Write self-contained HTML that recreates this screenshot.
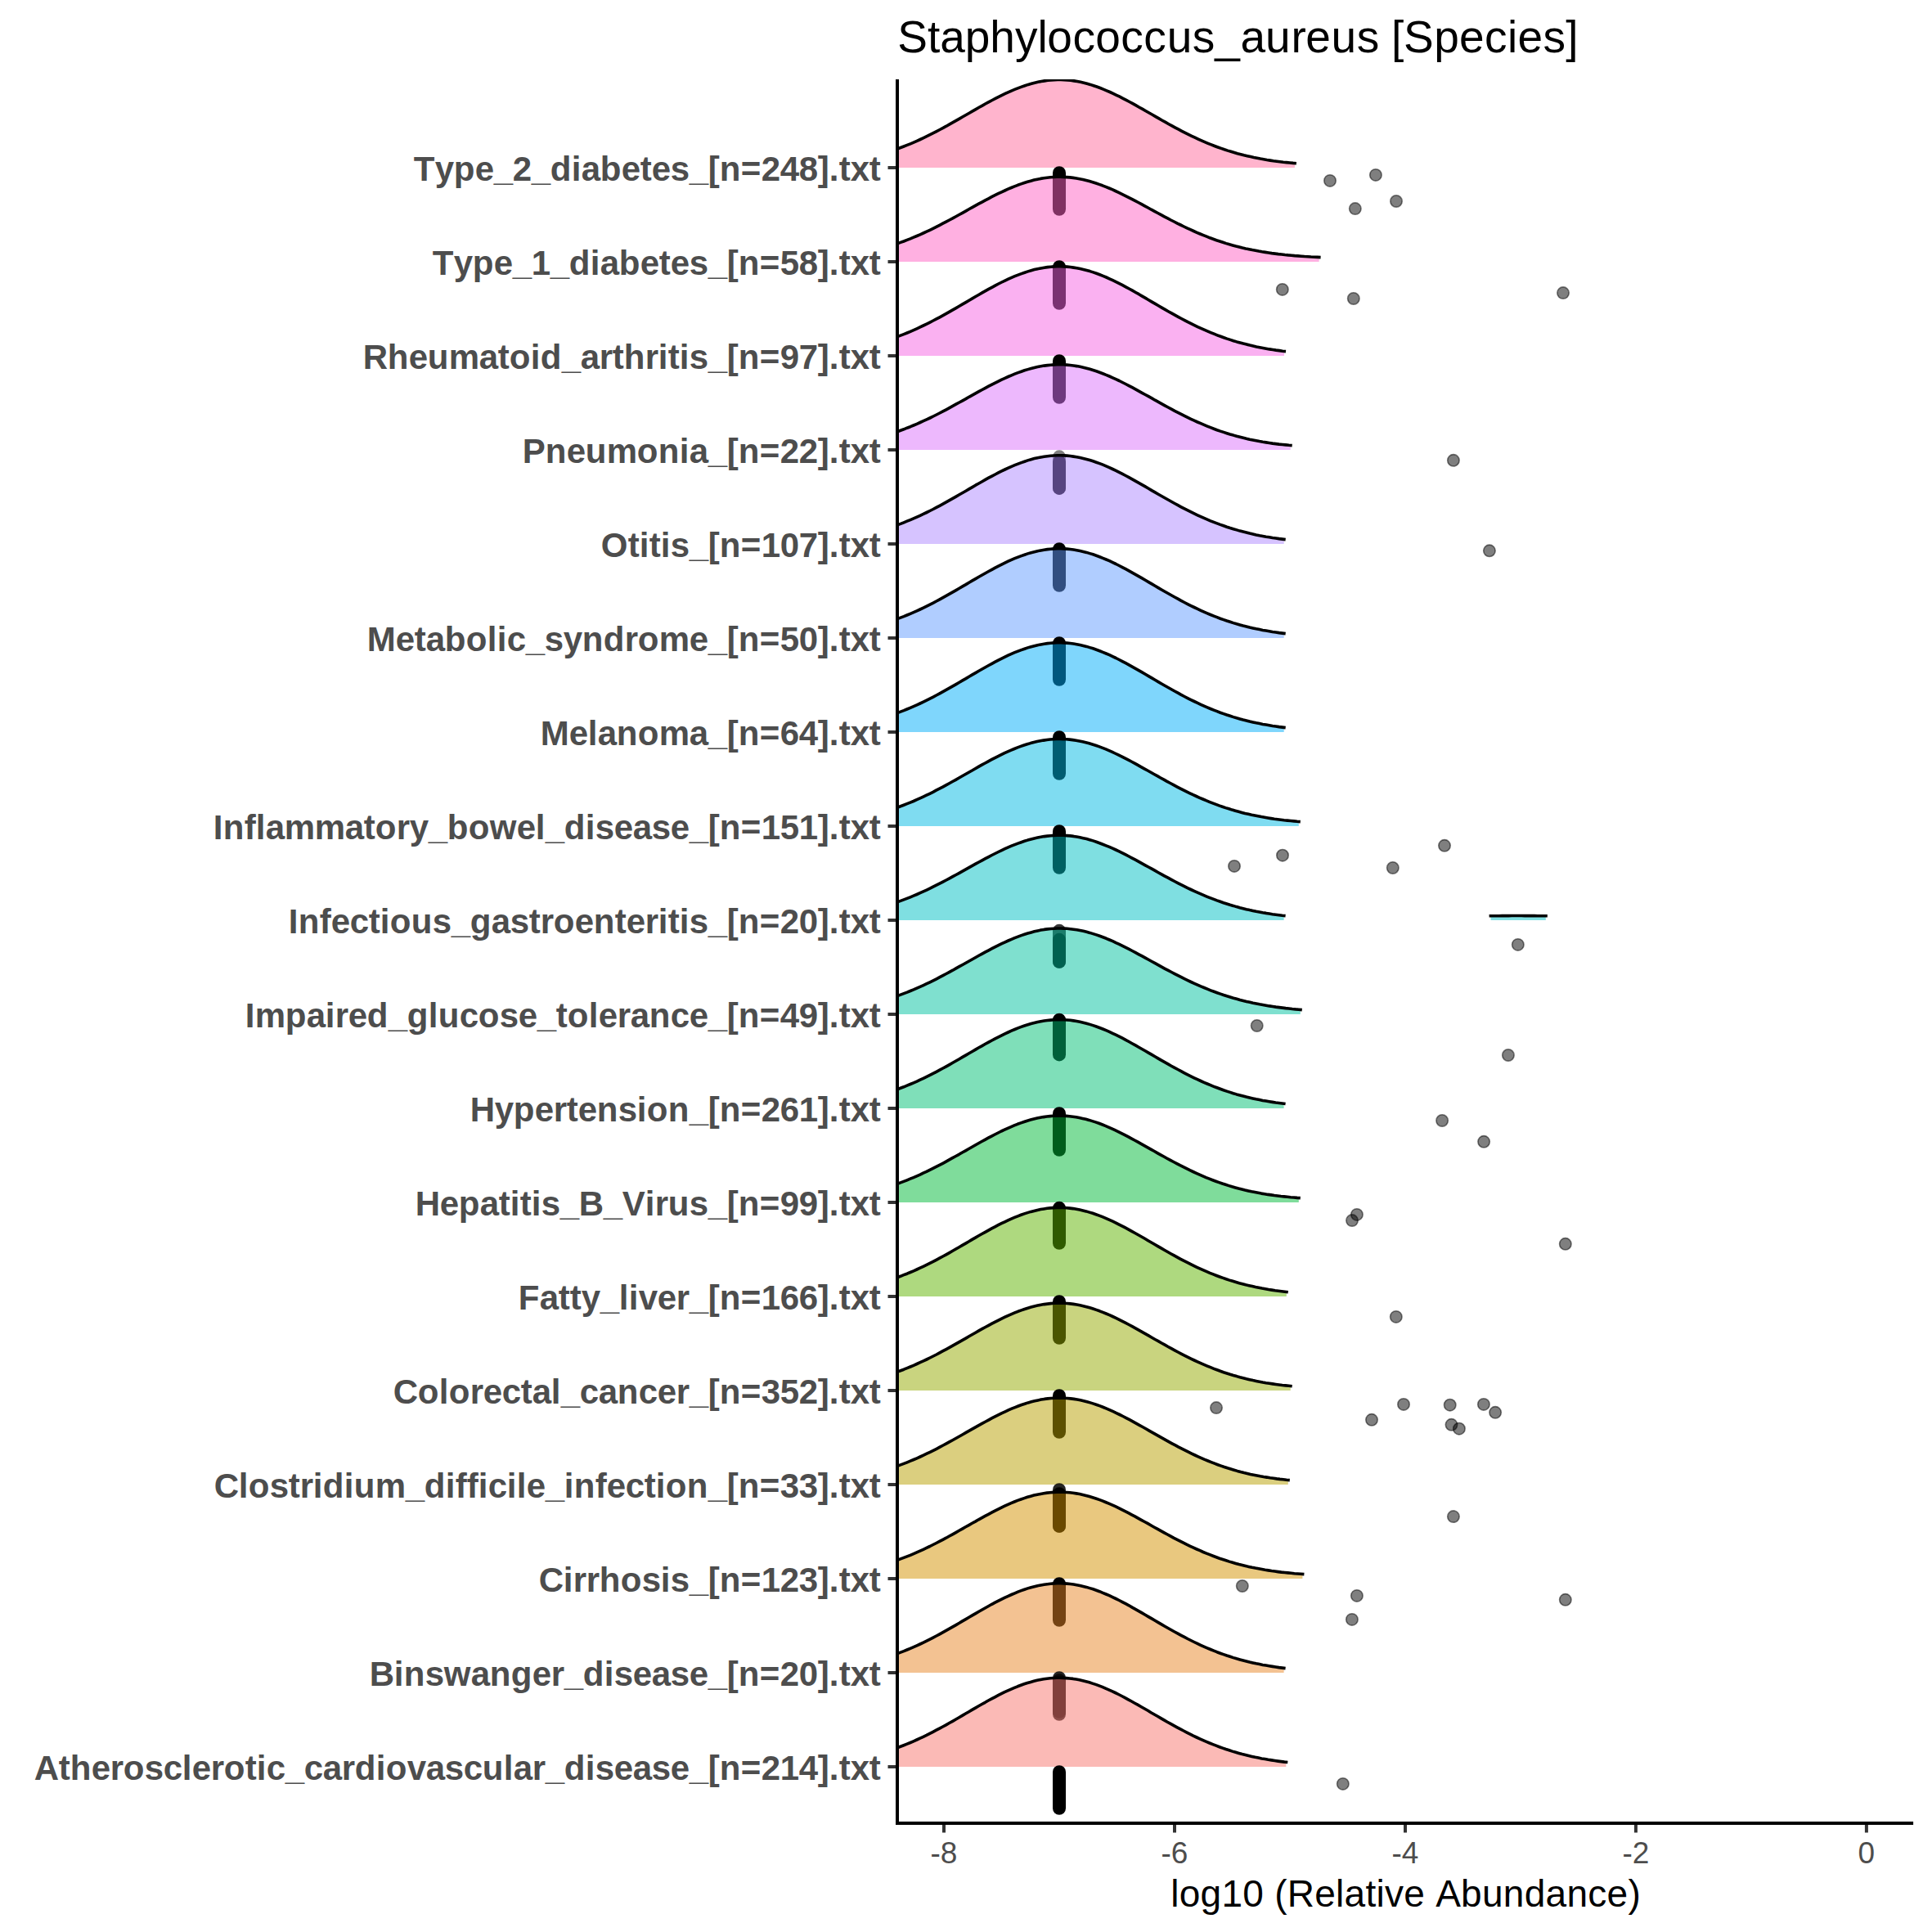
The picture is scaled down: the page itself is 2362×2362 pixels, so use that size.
<!DOCTYPE html>
<html lang="en"><head><meta charset="utf-8"><title>Staphylococcus_aureus [Species]</title>
<style>html,body{margin:0;padding:0;background:#fff}body{width:2362px;height:2362px;overflow:hidden}svg{display:block}text{font-family:"Liberation Sans",sans-serif}.yl{font-size:42px;font-weight:bold;fill:#4d4d4d}.xl{font-size:37px;fill:#4d4d4d;text-anchor:middle}.r{fill:none;stroke:#000;stroke-width:3.6;stroke-linejoin:round;stroke-linecap:butt}.d{fill:#000;fill-opacity:.5;stroke:#000;stroke-opacity:.5;stroke-width:1.6}.b{fill:#000}</style></head><body>
<svg width="2362" height="2362" viewBox="0 0 2362 2362">
<rect width="2362" height="2362" fill="#fff"/>
<defs><clipPath id="p"><rect x="1097" y="97" width="1242.1" height="2132"/></clipPath></defs>
<text x="1097.2 1133.9 1149.2 1179.8 1210.3 1240.9 1268.4 1280.2 1311.5 1339.3 1370.2 1398.2 1426.8 1457.8 1485.2 1516.4 1547 1578.5 1596.2 1627.5 1658.8 1686 1701.1 1716.1 1753.2 1784.1 1815 1842.9 1855.4 1886.4 1914.2" y="63.5" font-size="55" fill="#000">Staphylococcus_aureus [Species]</text>
<g clip-path="url(#p)">
<path d="M1089,205L1089,184.7L1093,183.4L1097,182L1100.9,180.5L1104.9,179L1108.9,177.4L1112.9,175.8L1116.9,174.1L1120.9,172.4L1124.8,170.5L1128.8,168.7L1132.8,166.8L1136.8,164.8L1140.8,162.8L1144.8,160.7L1148.7,158.6L1152.7,156.5L1156.7,154.3L1160.7,152.1L1164.7,149.9L1168.7,147.6L1172.6,145.3L1176.6,143L1180.6,140.7L1184.6,138.4L1188.6,136.1L1192.6,133.8L1196.5,131.6L1200.5,129.3L1204.5,127.1L1208.5,124.9L1212.5,122.7L1216.5,120.6L1220.4,118.6L1224.4,116.6L1228.4,114.7L1232.4,112.9L1236.4,111.1L1240.4,109.4L1244.3,107.8L1248.3,106.3L1252.3,104.9L1256.3,103.7L1260.3,102.5L1264.3,101.4L1268.2,100.5L1272.2,99.7L1276.2,99L1280.2,98.4L1284.2,98L1288.2,97.7L1292.1,97.5L1296.1,97.5L1300.1,97.6L1304.1,97.8L1308.1,98.2L1312.1,98.7L1316,99.3L1320,100.1L1324,101L1328,102L1332,103.1L1336,104.3L1339.9,105.7L1343.9,107.1L1347.9,108.7L1351.9,110.3L1355.9,112L1359.8,113.8L1363.8,115.7L1367.8,117.7L1371.8,119.7L1375.8,121.8L1379.8,123.9L1383.7,126L1387.7,128.2L1391.7,130.5L1395.7,132.7L1399.7,135L1403.7,137.3L1407.6,139.6L1411.6,141.9L1415.6,144.2L1419.6,146.4L1423.6,148.7L1427.6,150.9L1431.5,153.1L1435.5,155.3L1439.5,157.4L1443.5,159.6L1447.5,161.6L1451.5,163.6L1455.4,165.6L1459.4,167.5L1463.4,169.4L1467.4,171.2L1471.4,172.9L1475.4,174.6L1479.3,176.3L1483.3,177.8L1487.3,179.4L1491.3,180.8L1495.3,182.2L1499.3,183.5L1503.2,184.8L1507.2,186L1511.2,187.2L1515.2,188.3L1519.2,189.3L1523.2,190.3L1527.1,191.3L1531.1,192.1L1535.1,193L1539.1,193.7L1543.1,194.5L1547.1,195.2L1551,195.8L1555,196.4L1559,197L1563,197.5L1567,198L1571,198.4L1574.9,198.8L1578.9,199.2L1582.9,199.6L1582.9,205Z" fill="rgb(255,105,156)" fill-opacity=".5"/>
<rect class="b" x="1287" y="203.2" width="16" height="60.6" rx="8" ry="8"/>
<circle class="d" cx="1626" cy="220.9" r="7.2"/>
<circle class="d" cx="1681.9" cy="213.9" r="7.2"/>
<circle class="d" cx="1656.8" cy="255.1" r="7.2"/>
<circle class="d" cx="1707" cy="246" r="7.2"/>
<path class="r" d="M1089,184.7L1093,183.4L1097,182L1101,180.5L1105,179L1109,177.4L1113,175.8L1117,174.1L1121,172.3L1125,170.5L1129,168.6L1133,166.7L1137,164.7L1141,162.7L1145,160.6L1149,158.5L1153,156.3L1157,154.2L1161,151.9L1165,149.7L1169,147.4L1173,145.1L1177,142.8L1181,140.5L1185,138.2L1189,135.9L1193,133.6L1197,131.3L1201,129.1L1205,126.8L1209,124.6L1213,122.5L1217,120.4L1221,118.3L1225,116.3L1229,114.4L1233,112.6L1237,110.8L1241,109.2L1245,107.6L1249,106.1L1253,104.7L1257,103.4L1261,102.3L1265,101.2L1269,100.3L1273,99.5L1277,98.9L1281,98.3L1285,97.9L1289,97.7L1293,97.5L1297,97.5L1301,97.7L1305,97.9L1309,98.3L1313,98.9L1317,99.5L1321,100.3L1325,101.2L1329,102.3L1333,103.4L1337,104.7L1340.9,106L1344.9,107.5L1348.9,109.1L1352.9,110.8L1356.9,112.5L1360.9,114.4L1364.9,116.3L1368.9,118.2L1372.9,120.3L1376.9,122.4L1380.9,124.5L1384.9,126.7L1388.9,128.9L1392.9,131.2L1396.9,133.4L1400.9,135.7L1404.9,138L1408.9,140.3L1412.9,142.6L1416.9,144.9L1420.9,147.2L1424.9,149.4L1428.9,151.7L1432.9,153.9L1436.9,156.1L1440.9,158.2L1444.9,160.3L1448.9,162.4L1452.9,164.4L1456.9,166.3L1460.9,168.2L1464.9,170.1L1468.9,171.9L1472.9,173.6L1476.9,175.3L1480.9,176.9L1484.9,178.5L1488.9,180L1492.9,181.4L1496.9,182.8L1500.9,184.1L1504.9,185.3L1508.9,186.5L1512.9,187.7L1516.9,188.7L1520.9,189.8L1524.9,190.7L1528.9,191.6L1532.9,192.5L1536.9,193.3L1540.9,194.1L1544.9,194.8L1548.9,195.5L1552.9,196.1L1556.9,196.7L1560.9,197.2L1564.9,197.7L1568.9,198.2L1572.9,198.6L1576.9,199L1580.9,199.4L1584.9,199.7"/>
<path d="M1089,320L1089,300.5L1093,299.2L1097,297.8L1101,296.4L1105,294.9L1109,293.4L1113,291.8L1117,290.2L1121,288.5L1125,286.7L1129,284.9L1133,283.1L1137,281.2L1141,279.2L1145,277.2L1149,275.2L1153,273.1L1156.9,271L1160.9,268.9L1164.9,266.7L1168.9,264.5L1172.9,262.3L1176.9,260.1L1180.9,257.9L1184.9,255.6L1188.9,253.4L1192.9,251.2L1196.9,249L1200.9,246.8L1204.9,244.7L1208.9,242.6L1212.9,240.5L1216.9,238.5L1220.9,236.5L1224.9,234.6L1228.9,232.7L1232.9,230.9L1236.9,229.2L1240.9,227.6L1244.9,226.1L1248.9,224.7L1252.9,223.3L1256.9,222.1L1260.9,221L1264.9,220L1268.9,219.1L1272.9,218.3L1276.9,217.7L1280.9,217.1L1284.9,216.7L1288.8,216.5L1292.8,216.3L1296.8,216.3L1300.8,216.4L1304.8,216.7L1308.8,217L1312.8,217.5L1316.8,218.1L1320.8,218.9L1324.8,219.8L1328.8,220.7L1332.8,221.8L1336.8,223L1340.8,224.3L1344.8,225.7L1348.8,227.2L1352.8,228.8L1356.8,230.5L1360.8,232.2L1364.8,234L1368.8,235.9L1372.8,237.8L1376.8,239.8L1380.8,241.8L1384.8,243.9L1388.8,246L1392.8,248.2L1396.8,250.3L1400.8,252.5L1404.8,254.7L1408.8,256.8L1412.8,259L1416.7,261.2L1420.7,263.3L1424.7,265.5L1428.7,267.6L1432.7,269.7L1436.7,271.7L1440.7,273.7L1444.7,275.7L1448.7,277.6L1452.7,279.5L1456.7,281.4L1460.7,283.2L1464.7,284.9L1468.7,286.6L1472.7,288.2L1476.7,289.8L1480.7,291.3L1484.7,292.8L1488.7,294.2L1492.7,295.5L1496.7,296.8L1500.7,298L1504.7,299.2L1508.7,300.3L1512.7,301.4L1516.7,302.4L1520.7,303.3L1524.7,304.2L1528.7,305.1L1532.7,305.9L1536.7,306.7L1540.7,307.4L1544.7,308L1548.6,308.7L1552.6,309.2L1556.6,309.8L1560.6,310.3L1564.6,310.8L1568.6,311.2L1572.6,311.6L1576.6,312L1580.6,312.4L1584.6,312.7L1588.6,313L1592.6,313.3L1596.6,313.6L1600.6,313.8L1604.6,314.1L1608.6,314.3L1612.6,314.5L1612.6,320Z" fill="rgb(255,97,195)" fill-opacity=".5"/>
<rect class="b" x="1287" y="318.2" width="16" height="60.6" rx="8" ry="8"/>
<circle class="d" cx="1567.8" cy="353.9" r="7.2"/>
<circle class="d" cx="1654.8" cy="365" r="7.2"/>
<circle class="d" cx="1911" cy="358.1" r="7.2"/>
<path class="r" d="M1089,300.5L1093,299.2L1097,297.8L1100.9,296.4L1104.9,295L1108.9,293.4L1112.9,291.9L1116.9,290.2L1120.9,288.5L1124.8,286.8L1128.8,285L1132.8,283.2L1136.8,281.3L1140.8,279.3L1144.7,277.3L1148.7,275.3L1152.7,273.2L1156.7,271.1L1160.7,269L1164.7,266.9L1168.6,264.7L1172.6,262.5L1176.6,260.3L1180.6,258.1L1184.6,255.8L1188.5,253.6L1192.5,251.4L1196.5,249.2L1200.5,247.1L1204.5,244.9L1208.5,242.8L1212.4,240.7L1216.4,238.7L1220.4,236.7L1224.4,234.8L1228.4,233L1232.3,231.2L1236.3,229.5L1240.3,227.9L1244.3,226.3L1248.3,224.9L1252.3,223.5L1256.2,222.3L1260.2,221.2L1264.2,220.1L1268.2,219.2L1272.2,218.4L1276.1,217.8L1280.1,217.2L1284.1,216.8L1288.1,216.5L1292.1,216.3L1296.1,216.3L1300,216.4L1304,216.6L1308,216.9L1312,217.4L1316,218L1319.9,218.7L1323.9,219.5L1327.9,220.5L1331.9,221.6L1335.9,222.7L1339.9,224L1343.8,225.4L1347.8,226.8L1351.8,228.4L1355.8,230L1359.8,231.7L1363.7,233.5L1367.7,235.4L1371.7,237.3L1375.7,239.3L1379.7,241.3L1383.7,243.3L1387.6,245.4L1391.6,247.5L1395.6,249.7L1399.6,251.8L1403.6,254L1407.5,256.2L1411.5,258.3L1415.5,260.5L1419.5,262.7L1423.5,264.8L1427.5,266.9L1431.4,269L1435.4,271L1439.4,273.1L1443.4,275L1447.4,277L1451.3,278.9L1455.3,280.7L1459.3,282.5L1463.3,284.3L1467.3,286L1471.3,287.6L1475.2,289.2L1479.2,290.8L1483.2,292.2L1487.2,293.7L1491.2,295L1495.1,296.3L1499.1,297.6L1503.1,298.8L1507.1,299.9L1511.1,301L1515.1,302L1519,303L1523,303.9L1527,304.7L1531,305.6L1535,306.3L1538.9,307.1L1542.9,307.8L1546.9,308.4L1550.9,309L1554.9,309.6L1558.9,310.1L1562.8,310.6L1566.8,311L1570.8,311.5L1574.8,311.9L1578.8,312.2L1582.7,312.6L1586.7,312.9L1590.7,313.2L1594.7,313.5L1598.7,313.7L1602.7,314L1606.6,314.2L1610.6,314.4L1614.6,314.6"/>
<path d="M1089,435L1089,414.4L1093,413L1097,411.6L1100.9,410.1L1104.9,408.6L1108.9,407L1112.9,405.3L1116.8,403.6L1120.8,401.8L1124.8,400L1128.8,398.1L1132.7,396.2L1136.7,394.2L1140.7,392.1L1144.7,390.1L1148.6,387.9L1152.6,385.8L1156.6,383.5L1160.6,381.3L1164.5,379L1168.5,376.7L1172.5,374.4L1176.5,372.1L1180.4,369.8L1184.4,367.4L1188.4,365.1L1192.4,362.8L1196.3,360.5L1200.3,358.2L1204.3,355.9L1208.3,353.7L1212.2,351.5L1216.2,349.4L1220.2,347.3L1224.2,345.3L1228.1,343.4L1232.1,341.5L1236.1,339.7L1240.1,338L1244,336.3L1248,334.8L1252,333.4L1256,332.1L1259.9,330.9L1263.9,329.8L1267.9,328.9L1271.9,328L1275.8,327.3L1279.8,326.7L1283.8,326.3L1287.8,326L1291.7,325.8L1295.7,325.8L1299.7,325.8L1303.7,326.1L1307.6,326.4L1311.6,326.9L1315.6,327.6L1319.6,328.3L1323.5,329.2L1327.5,330.2L1331.5,331.3L1335.5,332.6L1339.4,333.9L1343.4,335.4L1347.4,336.9L1351.4,338.6L1355.3,340.3L1359.3,342.1L1363.3,344.1L1367.3,346L1371.2,348.1L1375.2,350.2L1379.2,352.3L1383.2,354.5L1387.1,356.8L1391.1,359L1395.1,361.3L1399.1,363.6L1403,366L1407,368.3L1411,370.6L1415,373L1418.9,375.3L1422.9,377.6L1426.9,379.9L1430.9,382.1L1434.8,384.4L1438.8,386.5L1442.8,388.7L1446.8,390.8L1450.7,392.9L1454.7,394.9L1458.7,396.9L1462.7,398.8L1466.6,400.7L1470.6,402.5L1474.6,404.3L1478.6,405.9L1482.5,407.6L1486.5,409.2L1490.5,410.7L1494.5,412.1L1498.4,413.5L1502.4,414.9L1506.4,416.1L1510.4,417.4L1514.3,418.5L1518.3,419.6L1522.3,420.7L1526.3,421.7L1530.2,422.6L1534.2,423.5L1538.2,424.3L1542.2,425.1L1546.1,425.8L1550.1,426.5L1554.1,427.2L1558.1,427.8L1562,428.4L1566,428.9L1570,429.4L1570,435Z" fill="rgb(245,100,227)" fill-opacity=".5"/>
<rect class="b" x="1287" y="433.2" width="16" height="60.6" rx="8" ry="8"/>
<path class="r" d="M1089,414.4L1093,413L1097,411.6L1101,410.1L1105,408.6L1109,407L1113,405.3L1116.9,403.6L1120.9,401.8L1124.9,399.9L1128.9,398L1132.9,396.1L1136.9,394.1L1140.9,392L1144.9,389.9L1148.9,387.8L1152.9,385.6L1156.9,383.4L1160.9,381.1L1164.8,378.9L1168.8,376.6L1172.8,374.2L1176.8,371.9L1180.8,369.6L1184.8,367.2L1188.8,364.9L1192.8,362.5L1196.8,360.2L1200.8,357.9L1204.8,355.7L1208.8,353.4L1212.7,351.3L1216.7,349.1L1220.7,347L1224.7,345L1228.7,343.1L1232.7,341.2L1236.7,339.4L1240.7,337.7L1244.7,336.1L1248.7,334.6L1252.7,333.2L1256.7,331.9L1260.6,330.7L1264.6,329.6L1268.6,328.7L1272.6,327.9L1276.6,327.2L1280.6,326.6L1284.6,326.2L1288.6,325.9L1292.6,325.8L1296.6,325.8L1300.6,325.9L1304.6,326.1L1308.5,326.5L1312.5,327.1L1316.5,327.7L1320.5,328.5L1324.5,329.4L1328.5,330.5L1332.5,331.6L1336.5,332.9L1340.5,334.3L1344.5,335.8L1348.5,337.4L1352.5,339L1356.4,340.8L1360.4,342.7L1364.4,344.6L1368.4,346.6L1372.4,348.7L1376.4,350.8L1380.4,353L1384.4,355.2L1388.4,357.5L1392.4,359.7L1396.4,362.1L1400.4,364.4L1404.3,366.7L1408.3,369.1L1412.3,371.4L1416.3,373.7L1420.3,376.1L1424.3,378.4L1428.3,380.7L1432.3,382.9L1436.3,385.1L1440.3,387.3L1444.3,389.5L1448.3,391.6L1452.2,393.7L1456.2,395.7L1460.2,397.6L1464.2,399.6L1468.2,401.4L1472.2,403.2L1476.2,404.9L1480.2,406.6L1484.2,408.2L1488.2,409.8L1492.2,411.3L1496.2,412.7L1500.1,414.1L1504.1,415.4L1508.1,416.7L1512.1,417.9L1516.1,419L1520.1,420.1L1524.1,421.1L1528.1,422.1L1532.1,423L1536.1,423.9L1540.1,424.7L1544.1,425.5L1548,426.2L1552,426.9L1556,427.5L1560,428.1L1564,428.6L1568,429.2L1572,429.6"/>
<path d="M1089,550L1089,530.3L1093,529L1096.9,527.7L1100.9,526.3L1104.9,524.8L1108.9,523.3L1112.8,521.7L1116.8,520.1L1120.8,518.4L1124.8,516.6L1128.7,514.8L1132.7,513L1136.7,511.1L1140.7,509.1L1144.6,507.1L1148.6,505.1L1152.6,503L1156.5,500.9L1160.5,498.8L1164.5,496.6L1168.5,494.4L1172.4,492.2L1176.4,490L1180.4,487.8L1184.4,485.5L1188.3,483.3L1192.3,481.1L1196.3,478.9L1200.2,476.7L1204.2,474.6L1208.2,472.4L1212.2,470.4L1216.1,468.3L1220.1,466.3L1224.1,464.4L1228.1,462.6L1232,460.8L1236,459L1240,457.4L1244,455.9L1247.9,454.4L1251.9,453.1L1255.9,451.8L1259.8,450.7L1263.8,449.6L1267.8,448.7L1271.8,447.9L1275.7,447.2L1279.7,446.7L1283.7,446.2L1287.7,445.9L1291.6,445.8L1295.6,445.7L1299.6,445.8L1303.6,446L1307.5,446.4L1311.5,446.8L1315.5,447.4L1319.4,448.1L1323.4,449L1327.4,449.9L1331.4,451L1335.3,452.2L1339.3,453.5L1343.3,454.8L1347.3,456.3L1351.2,457.9L1355.2,459.6L1359.2,461.3L1363.1,463.1L1367.1,465L1371.1,466.9L1375.1,468.9L1379,471L1383,473.1L1387,475.2L1391,477.4L1394.9,479.6L1398.9,481.8L1402.9,484L1406.9,486.2L1410.8,488.4L1414.8,490.7L1418.8,492.9L1422.7,495.1L1426.7,497.2L1430.7,499.4L1434.7,501.5L1438.6,503.6L1442.6,505.7L1446.6,507.7L1450.6,509.6L1454.5,511.6L1458.5,513.4L1462.5,515.3L1466.5,517L1470.4,518.8L1474.4,520.4L1478.4,522L1482.3,523.6L1486.3,525.1L1490.3,526.5L1494.3,527.9L1498.2,529.2L1502.2,530.5L1506.2,531.7L1510.2,532.8L1514.1,533.9L1518.1,534.9L1522.1,535.9L1526,536.8L1530,537.7L1534,538.5L1538,539.2L1541.9,539.9L1545.9,540.6L1549.9,541.2L1553.9,541.8L1557.8,542.3L1561.8,542.8L1565.8,543.3L1569.8,543.7L1573.7,544.1L1577.7,544.4L1577.7,550Z" fill="rgb(219,114,251)" fill-opacity=".5"/>
<rect class="b" x="1287" y="550.3" width="16" height="54.6" rx="8" ry="8" fill-opacity="0.5"/>
<rect class="b" x="1287" y="556.3" width="16" height="48.6" rx="8" ry="8" fill-opacity="1"/>
<circle class="d" cx="1776.9" cy="562.8" r="7.2"/>
<path class="r" d="M1089,530.3L1093,529L1097,527.7L1101,526.2L1105,524.8L1108.9,523.2L1112.9,521.7L1116.9,520L1120.9,518.3L1124.9,516.5L1128.9,514.7L1132.9,512.9L1136.9,511L1140.9,509L1144.9,507L1148.8,505L1152.8,502.9L1156.8,500.8L1160.8,498.6L1164.8,496.4L1168.8,494.2L1172.8,492L1176.8,489.8L1180.8,487.6L1184.7,485.3L1188.7,483.1L1192.7,480.9L1196.7,478.7L1200.7,476.5L1204.7,474.3L1208.7,472.2L1212.7,470.1L1216.7,468.1L1220.7,466.1L1224.6,464.1L1228.6,462.3L1232.6,460.5L1236.6,458.8L1240.6,457.2L1244.6,455.6L1248.6,454.2L1252.6,452.8L1256.6,451.6L1260.5,450.5L1264.5,449.4L1268.5,448.5L1272.5,447.8L1276.5,447.1L1280.5,446.6L1284.5,446.2L1288.5,445.9L1292.5,445.7L1296.5,445.7L1300.4,445.8L1304.4,446.1L1308.4,446.5L1312.4,447L1316.4,447.6L1320.4,448.3L1324.4,449.2L1328.4,450.2L1332.4,451.3L1336.3,452.5L1340.3,453.8L1344.3,455.2L1348.3,456.7L1352.3,458.3L1356.3,460L1360.3,461.8L1364.3,463.6L1368.3,465.5L1372.2,467.5L1376.2,469.5L1380.2,471.6L1384.2,473.7L1388.2,475.9L1392.2,478.1L1396.2,480.3L1400.2,482.5L1404.2,484.7L1408.2,486.9L1412.1,489.2L1416.1,491.4L1420.1,493.6L1424.1,495.8L1428.1,498L1432.1,500.1L1436.1,502.3L1440.1,504.3L1444.1,506.4L1448,508.4L1452,510.4L1456,512.3L1460,514.1L1464,516L1468,517.7L1472,519.4L1476,521.1L1480,522.7L1484,524.2L1487.9,525.7L1491.9,527.1L1495.9,528.4L1499.9,529.7L1503.9,531L1507.9,532.1L1511.9,533.3L1515.9,534.3L1519.9,535.3L1523.8,536.3L1527.8,537.2L1531.8,538L1535.8,538.8L1539.8,539.6L1543.8,540.3L1547.8,540.9L1551.8,541.5L1555.8,542.1L1559.8,542.6L1563.7,543.1L1567.7,543.5L1571.7,543.9L1575.7,544.3L1579.7,544.6"/>
<path d="M1089,665L1089,644.6L1093,643.2L1096.9,641.8L1100.9,640.4L1104.9,638.8L1108.9,637.3L1112.8,635.6L1116.8,633.9L1120.8,632.2L1124.8,630.4L1128.7,628.5L1132.7,626.6L1136.7,624.6L1140.6,622.6L1144.6,620.5L1148.6,618.4L1152.6,616.2L1156.5,614L1160.5,611.8L1164.5,609.6L1168.5,607.3L1172.4,605L1176.4,602.7L1180.4,600.4L1184.3,598.1L1188.3,595.8L1192.3,593.5L1196.3,591.2L1200.2,589L1204.2,586.7L1208.2,584.5L1212.2,582.4L1216.1,580.2L1220.1,578.2L1224.1,576.2L1228,574.2L1232,572.4L1236,570.6L1240,568.9L1243.9,567.3L1247.9,565.8L1251.9,564.4L1255.9,563.1L1259.8,561.9L1263.8,560.8L1267.8,559.9L1271.7,559L1275.7,558.3L1279.7,557.8L1283.7,557.3L1287.6,557L1291.6,556.8L1295.6,556.8L1299.6,556.9L1303.5,557.1L1307.5,557.4L1311.5,557.9L1315.4,558.5L1319.4,559.3L1323.4,560.1L1327.4,561.1L1331.3,562.2L1335.3,563.5L1339.3,564.8L1343.3,566.2L1347.2,567.8L1351.2,569.4L1355.2,571.1L1359.1,572.9L1363.1,574.8L1367.1,576.8L1371.1,578.8L1375,580.9L1379,583L1383,585.2L1387,587.4L1390.9,589.6L1394.9,591.9L1398.9,594.2L1402.8,596.5L1406.8,598.8L1410.8,601.1L1414.8,603.4L1418.7,605.7L1422.7,608L1426.7,610.3L1430.7,612.5L1434.6,614.7L1438.6,616.9L1442.6,619L1446.5,621.1L1450.5,623.2L1454.5,625.2L1458.5,627.1L1462.4,629L1466.4,630.9L1470.4,632.7L1474.4,634.4L1478.3,636.1L1482.3,637.7L1486.3,639.3L1490.2,640.8L1494.2,642.2L1498.2,643.6L1502.2,644.9L1506.1,646.2L1510.1,647.4L1514.1,648.6L1518.1,649.7L1522,650.7L1526,651.7L1530,652.6L1533.9,653.5L1537.9,654.3L1541.9,655.1L1545.9,655.8L1549.8,656.5L1553.8,657.2L1557.8,657.8L1561.8,658.3L1565.7,658.9L1569.7,659.3L1569.7,665Z" fill="rgb(174,135,255)" fill-opacity=".5"/>
<rect class="b" x="1287" y="663.2" width="16" height="60.6" rx="8" ry="8"/>
<circle class="d" cx="1820.9" cy="673.3" r="7.2"/>
<path class="r" d="M1089,644.6L1093,643.2L1097,641.8L1101,640.4L1105,638.8L1108.9,637.2L1112.9,635.6L1116.9,633.9L1120.9,632.1L1124.9,630.3L1128.9,628.4L1132.9,626.5L1136.9,624.5L1140.9,622.5L1144.8,620.4L1148.8,618.3L1152.8,616.1L1156.8,613.9L1160.8,611.7L1164.8,609.4L1168.8,607.1L1172.8,604.8L1176.8,602.5L1180.8,600.2L1184.7,597.9L1188.7,595.6L1192.7,593.2L1196.7,591L1200.7,588.7L1204.7,586.4L1208.7,584.2L1212.7,582.1L1216.7,580L1220.6,577.9L1224.6,575.9L1228.6,574L1232.6,572.1L1236.6,570.3L1240.6,568.7L1244.6,567.1L1248.6,565.6L1252.6,564.2L1256.5,562.9L1260.5,561.7L1264.5,560.6L1268.5,559.7L1272.5,558.9L1276.5,558.2L1280.5,557.7L1284.5,557.2L1288.5,557L1292.5,556.8L1296.4,556.8L1300.4,556.9L1304.4,557.1L1308.4,557.5L1312.4,558.1L1316.4,558.7L1320.4,559.5L1324.4,560.4L1328.4,561.4L1332.3,562.5L1336.3,563.8L1340.3,565.2L1344.3,566.6L1348.3,568.2L1352.3,569.9L1356.3,571.6L1360.3,573.5L1364.3,575.4L1368.2,577.4L1372.2,579.4L1376.2,581.5L1380.2,583.6L1384.2,585.8L1388.2,588.1L1392.2,590.3L1396.2,592.6L1400.2,594.9L1404.2,597.2L1408.1,599.6L1412.1,601.9L1416.1,604.2L1420.1,606.5L1424.1,608.8L1428.1,611L1432.1,613.3L1436.1,615.5L1440.1,617.7L1444,619.8L1448,621.9L1452,623.9L1456,625.9L1460,627.9L1464,629.8L1468,631.6L1472,633.4L1476,635.1L1479.9,636.8L1483.9,638.4L1487.9,639.9L1491.9,641.4L1495.9,642.8L1499.9,644.2L1503.9,645.5L1507.9,646.7L1511.9,647.9L1515.9,649.1L1519.8,650.1L1523.8,651.1L1527.8,652.1L1531.8,653L1535.8,653.9L1539.8,654.7L1543.8,655.4L1547.8,656.2L1551.8,656.8L1555.7,657.5L1559.7,658L1563.7,658.6L1567.7,659.1L1571.7,659.6"/>
<path d="M1089,780L1089,759.4L1093,758L1096.9,756.6L1100.9,755.1L1104.9,753.6L1108.9,752L1112.8,750.3L1116.8,748.6L1120.8,746.9L1124.8,745L1128.7,743.1L1132.7,741.2L1136.7,739.2L1140.6,737.2L1144.6,735.1L1148.6,732.9L1152.6,730.8L1156.5,728.6L1160.5,726.3L1164.5,724.1L1168.5,721.8L1172.4,719.5L1176.4,717.1L1180.4,714.8L1184.3,712.5L1188.3,710.1L1192.3,707.8L1196.3,705.5L1200.2,703.2L1204.2,701L1208.2,698.8L1212.2,696.6L1216.1,694.4L1220.1,692.4L1224.1,690.3L1228,688.4L1232,686.5L1236,684.7L1240,683L1243.9,681.4L1247.9,679.9L1251.9,678.4L1255.9,677.1L1259.8,675.9L1263.8,674.8L1267.8,673.9L1271.7,673L1275.7,672.3L1279.7,671.8L1283.7,671.3L1287.6,671L1291.6,670.8L1295.6,670.8L1299.6,670.8L1303.5,671.1L1307.5,671.4L1311.5,671.9L1315.4,672.5L1319.4,673.3L1323.4,674.2L1327.4,675.2L1331.3,676.3L1335.3,677.5L1339.3,678.9L1343.3,680.3L1347.2,681.9L1351.2,683.5L1355.2,685.2L1359.1,687.1L1363.1,689L1367.1,690.9L1371.1,693L1375,695.1L1379,697.2L1383,699.4L1387,701.6L1390.9,703.9L1394.9,706.2L1398.9,708.5L1402.8,710.8L1406.8,713.2L1410.8,715.5L1414.8,717.8L1418.7,720.2L1422.7,722.5L1426.7,724.7L1430.7,727L1434.6,729.2L1438.6,731.4L1442.6,733.6L1446.5,735.7L1450.5,737.8L1454.5,739.8L1458.5,741.8L1462.4,743.7L1466.4,745.6L1470.4,747.4L1474.4,749.1L1478.3,750.8L1482.3,752.5L1486.3,754.1L1490.2,755.6L1494.2,757L1498.2,758.4L1502.2,759.8L1506.1,761.1L1510.1,762.3L1514.1,763.4L1518.1,764.5L1522,765.6L1526,766.6L1530,767.5L1533.9,768.4L1537.9,769.3L1541.9,770L1545.9,770.8L1549.8,771.5L1553.8,772.1L1557.8,772.8L1561.8,773.3L1565.7,773.9L1569.7,774.4L1569.7,780Z" fill="rgb(97,156,255)" fill-opacity=".5"/>
<rect class="b" x="1287" y="778.2" width="16" height="60.6" rx="8" ry="8"/>
<path class="r" d="M1089,759.4L1093,758L1097,756.6L1101,755.1L1105,753.6L1108.9,752L1112.9,750.3L1116.9,748.6L1120.9,746.8L1124.9,745L1128.9,743.1L1132.9,741.1L1136.9,739.1L1140.9,737.1L1144.8,735L1148.8,732.8L1152.8,730.6L1156.8,728.4L1160.8,726.2L1164.8,723.9L1168.8,721.6L1172.8,719.3L1176.8,716.9L1180.8,714.6L1184.7,712.2L1188.7,709.9L1192.7,707.6L1196.7,705.3L1200.7,703L1204.7,700.7L1208.7,698.5L1212.7,696.3L1216.7,694.2L1220.6,692.1L1224.6,690.1L1228.6,688.1L1232.6,686.2L1236.6,684.4L1240.6,682.7L1244.6,681.1L1248.6,679.6L1252.6,678.2L1256.5,676.9L1260.5,675.7L1264.5,674.7L1268.5,673.7L1272.5,672.9L1276.5,672.2L1280.5,671.6L1284.5,671.2L1288.5,670.9L1292.5,670.8L1296.4,670.8L1300.4,670.9L1304.4,671.1L1308.4,671.5L1312.4,672L1316.4,672.7L1320.4,673.5L1324.4,674.4L1328.4,675.4L1332.3,676.6L1336.3,677.8L1340.3,679.2L1344.3,680.7L1348.3,682.3L1352.3,684L1356.3,685.7L1360.3,687.6L1364.3,689.5L1368.2,691.5L1372.2,693.6L1376.2,695.7L1380.2,697.9L1384.2,700.1L1388.2,702.3L1392.2,704.6L1396.2,706.9L1400.2,709.3L1404.2,711.6L1408.1,713.9L1412.1,716.3L1416.1,718.6L1420.1,721L1424.1,723.3L1428.1,725.5L1432.1,727.8L1436.1,730L1440.1,732.2L1444,734.4L1448,736.5L1452,738.6L1456,740.6L1460,742.5L1464,744.4L1468,746.3L1472,748.1L1476,749.8L1479.9,751.5L1483.9,753.1L1487.9,754.7L1491.9,756.2L1495.9,757.6L1499.9,759L1503.9,760.3L1507.9,761.6L1511.9,762.8L1515.9,763.9L1519.8,765L1523.8,766L1527.8,767L1531.8,767.9L1535.8,768.8L1539.8,769.6L1543.8,770.4L1547.8,771.1L1551.8,771.8L1555.7,772.5L1559.7,773L1563.7,773.6L1567.7,774.1L1571.7,774.6"/>
<path d="M1089,895L1089,874.4L1093,873L1096.9,871.6L1100.9,870.1L1104.9,868.6L1108.9,867L1112.8,865.3L1116.8,863.6L1120.8,861.9L1124.8,860L1128.7,858.1L1132.7,856.2L1136.7,854.2L1140.6,852.2L1144.6,850.1L1148.6,847.9L1152.6,845.8L1156.5,843.6L1160.5,841.3L1164.5,839.1L1168.5,836.8L1172.4,834.5L1176.4,832.1L1180.4,829.8L1184.3,827.5L1188.3,825.1L1192.3,822.8L1196.3,820.5L1200.2,818.2L1204.2,816L1208.2,813.8L1212.2,811.6L1216.1,809.4L1220.1,807.4L1224.1,805.3L1228,803.4L1232,801.5L1236,799.7L1240,798L1243.9,796.4L1247.9,794.9L1251.9,793.4L1255.9,792.1L1259.8,790.9L1263.8,789.8L1267.8,788.9L1271.7,788L1275.7,787.3L1279.7,786.8L1283.7,786.3L1287.6,786L1291.6,785.8L1295.6,785.8L1299.6,785.8L1303.5,786.1L1307.5,786.4L1311.5,786.9L1315.4,787.5L1319.4,788.3L1323.4,789.2L1327.4,790.2L1331.3,791.3L1335.3,792.5L1339.3,793.9L1343.3,795.3L1347.2,796.9L1351.2,798.5L1355.2,800.2L1359.1,802.1L1363.1,804L1367.1,805.9L1371.1,808L1375,810.1L1379,812.2L1383,814.4L1387,816.6L1390.9,818.9L1394.9,821.2L1398.9,823.5L1402.8,825.8L1406.8,828.2L1410.8,830.5L1414.8,832.8L1418.7,835.2L1422.7,837.5L1426.7,839.7L1430.7,842L1434.6,844.2L1438.6,846.4L1442.6,848.6L1446.5,850.7L1450.5,852.8L1454.5,854.8L1458.5,856.8L1462.4,858.7L1466.4,860.6L1470.4,862.4L1474.4,864.1L1478.3,865.8L1482.3,867.5L1486.3,869.1L1490.2,870.6L1494.2,872L1498.2,873.4L1502.2,874.8L1506.1,876.1L1510.1,877.3L1514.1,878.4L1518.1,879.5L1522,880.6L1526,881.6L1530,882.5L1533.9,883.4L1537.9,884.3L1541.9,885L1545.9,885.8L1549.8,886.5L1553.8,887.1L1557.8,887.8L1561.8,888.3L1565.7,888.9L1569.7,889.4L1569.7,895Z" fill="rgb(0,173,250)" fill-opacity=".5"/>
<rect class="b" x="1287" y="893.2" width="16" height="60.6" rx="8" ry="8"/>
<path class="r" d="M1089,874.4L1093,873L1097,871.6L1101,870.1L1105,868.6L1108.9,867L1112.9,865.3L1116.9,863.6L1120.9,861.8L1124.9,860L1128.9,858.1L1132.9,856.1L1136.9,854.1L1140.9,852.1L1144.8,850L1148.8,847.8L1152.8,845.6L1156.8,843.4L1160.8,841.2L1164.8,838.9L1168.8,836.6L1172.8,834.3L1176.8,831.9L1180.8,829.6L1184.7,827.2L1188.7,824.9L1192.7,822.6L1196.7,820.3L1200.7,818L1204.7,815.7L1208.7,813.5L1212.7,811.3L1216.7,809.2L1220.6,807.1L1224.6,805.1L1228.6,803.1L1232.6,801.2L1236.6,799.4L1240.6,797.7L1244.6,796.1L1248.6,794.6L1252.6,793.2L1256.5,791.9L1260.5,790.7L1264.5,789.7L1268.5,788.7L1272.5,787.9L1276.5,787.2L1280.5,786.6L1284.5,786.2L1288.5,785.9L1292.5,785.8L1296.4,785.8L1300.4,785.9L1304.4,786.1L1308.4,786.5L1312.4,787L1316.4,787.7L1320.4,788.5L1324.4,789.4L1328.4,790.4L1332.3,791.6L1336.3,792.8L1340.3,794.2L1344.3,795.7L1348.3,797.3L1352.3,799L1356.3,800.7L1360.3,802.6L1364.3,804.5L1368.2,806.5L1372.2,808.6L1376.2,810.7L1380.2,812.9L1384.2,815.1L1388.2,817.3L1392.2,819.6L1396.2,821.9L1400.2,824.3L1404.2,826.6L1408.1,828.9L1412.1,831.3L1416.1,833.6L1420.1,836L1424.1,838.3L1428.1,840.5L1432.1,842.8L1436.1,845L1440.1,847.2L1444,849.4L1448,851.5L1452,853.6L1456,855.6L1460,857.5L1464,859.4L1468,861.3L1472,863.1L1476,864.8L1479.9,866.5L1483.9,868.1L1487.9,869.7L1491.9,871.2L1495.9,872.6L1499.9,874L1503.9,875.3L1507.9,876.6L1511.9,877.8L1515.9,878.9L1519.8,880L1523.8,881L1527.8,882L1531.8,882.9L1535.8,883.8L1539.8,884.6L1543.8,885.4L1547.8,886.1L1551.8,886.8L1555.7,887.5L1559.7,888L1563.7,888.6L1567.7,889.1L1571.7,889.6"/>
<path d="M1089,1010L1089,989.9L1093,988.6L1097,987.2L1101,985.8L1105,984.3L1109,982.7L1112.9,981.1L1116.9,979.4L1120.9,977.7L1124.9,975.9L1128.9,974L1132.9,972.1L1136.9,970.2L1140.9,968.2L1144.9,966.1L1148.9,964L1152.8,961.9L1156.8,959.8L1160.8,957.6L1164.8,955.3L1168.8,953.1L1172.8,950.8L1176.8,948.6L1180.8,946.3L1184.8,944L1188.8,941.7L1192.8,939.5L1196.7,937.2L1200.7,935L1204.7,932.8L1208.7,930.6L1212.7,928.5L1216.7,926.4L1220.7,924.4L1224.7,922.4L1228.7,920.5L1232.7,918.7L1236.6,916.9L1240.6,915.2L1244.6,913.7L1248.6,912.2L1252.6,910.8L1256.6,909.6L1260.6,908.4L1264.6,907.4L1268.6,906.4L1272.6,905.6L1276.5,904.9L1280.5,904.4L1284.5,904L1288.5,903.7L1292.5,903.5L1296.5,903.5L1300.5,903.6L1304.5,903.8L1308.5,904.2L1312.5,904.7L1316.5,905.3L1320.4,906.1L1324.4,906.9L1328.4,907.9L1332.4,909L1336.4,910.3L1340.4,911.6L1344.4,913L1348.4,914.5L1352.4,916.2L1356.4,917.9L1360.3,919.6L1364.3,921.5L1368.3,923.4L1372.3,925.4L1376.3,927.4L1380.3,929.5L1384.3,931.7L1388.3,933.8L1392.3,936L1396.3,938.2L1400.3,940.5L1404.2,942.7L1408.2,945L1412.2,947.2L1416.2,949.5L1420.2,951.7L1424.2,953.9L1428.2,956.1L1432.2,958.3L1436.2,960.4L1440.2,962.5L1444.1,964.6L1448.1,966.6L1452.1,968.6L1456.1,970.5L1460.1,972.4L1464.1,974.2L1468.1,976L1472.1,977.7L1476.1,979.4L1480.1,981L1484,982.5L1488,984L1492,985.4L1496,986.8L1500,988.1L1504,989.4L1508,990.6L1512,991.7L1516,992.8L1520,993.8L1524,994.8L1527.9,995.7L1531.9,996.6L1535.9,997.4L1539.9,998.2L1543.9,998.9L1547.9,999.6L1551.9,1000.2L1555.9,1000.9L1559.9,1001.4L1563.9,1001.9L1567.8,1002.4L1571.8,1002.9L1575.8,1003.3L1579.8,1003.7L1583.8,1004.1L1587.8,1004.4L1587.8,1010Z" fill="rgb(0,185,227)" fill-opacity=".5"/>
<rect class="b" x="1287" y="1008.2" width="16" height="60.6" rx="8" ry="8"/>
<circle class="d" cx="1509" cy="1058.9" r="7.2"/>
<circle class="d" cx="1568" cy="1045.7" r="7.2"/>
<circle class="d" cx="1702.8" cy="1061" r="7.2"/>
<circle class="d" cx="1766" cy="1033.8" r="7.2"/>
<path class="r" d="M1089,989.9L1093,988.6L1096.9,987.2L1100.9,985.8L1104.9,984.3L1108.9,982.7L1112.8,981.1L1116.8,979.5L1120.8,977.7L1124.8,975.9L1128.7,974.1L1132.7,972.2L1136.7,970.3L1140.7,968.3L1144.6,966.2L1148.6,964.2L1152.6,962.1L1156.6,959.9L1160.5,957.7L1164.5,955.5L1168.5,953.3L1172.5,951L1176.4,948.8L1180.4,946.5L1184.4,944.2L1188.4,942L1192.3,939.7L1196.3,937.4L1200.3,935.2L1204.3,933L1208.2,930.9L1212.2,928.7L1216.2,926.6L1220.2,924.6L1224.1,922.7L1228.1,920.7L1232.1,918.9L1236.1,917.2L1240,915.5L1244,913.9L1248,912.4L1252,911L1255.9,909.8L1259.9,908.6L1263.9,907.5L1267.9,906.6L1271.8,905.8L1275.8,905.1L1279.8,904.5L1283.8,904L1287.7,903.7L1291.7,903.5L1295.7,903.5L1299.7,903.6L1303.6,903.8L1307.6,904.1L1311.6,904.6L1315.6,905.2L1319.5,905.9L1323.5,906.7L1327.5,907.7L1331.5,908.8L1335.4,910L1339.4,911.2L1343.4,912.6L1347.3,914.1L1351.3,915.7L1355.3,917.4L1359.3,919.1L1363.2,921L1367.2,922.9L1371.2,924.8L1375.2,926.9L1379.1,928.9L1383.1,931L1387.1,933.2L1391.1,935.4L1395,937.6L1399,939.8L1403,942L1407,944.3L1410.9,946.5L1414.9,948.7L1418.9,951L1422.9,953.2L1426.8,955.4L1430.8,957.5L1434.8,959.7L1438.8,961.8L1442.7,963.8L1446.7,965.9L1450.7,967.9L1454.7,969.8L1458.6,971.7L1462.6,973.5L1466.6,975.3L1470.6,977L1474.5,978.7L1478.5,980.3L1482.5,981.9L1486.5,983.4L1490.4,984.9L1494.4,986.2L1498.4,987.6L1502.4,988.8L1506.3,990.1L1510.3,991.2L1514.3,992.3L1518.3,993.4L1522.2,994.4L1526.2,995.3L1530.2,996.2L1534.2,997L1538.1,997.8L1542.1,998.6L1546.1,999.3L1550.1,1000L1554,1000.6L1558,1001.2L1562,1001.7L1566,1002.2L1569.9,1002.7L1573.9,1003.1L1577.9,1003.5L1581.9,1003.9L1585.8,1004.3L1589.8,1004.6"/>
<path d="M1089,1125L1089,1105.4L1093,1104.1L1096.9,1102.8L1100.9,1101.4L1104.9,1099.9L1108.9,1098.4L1112.8,1096.8L1116.8,1095.2L1120.8,1093.5L1124.7,1091.8L1128.7,1090L1132.7,1088.1L1136.7,1086.2L1140.6,1084.3L1144.6,1082.3L1148.6,1080.3L1152.6,1078.2L1156.5,1076.1L1160.5,1074L1164.5,1071.9L1168.4,1069.7L1172.4,1067.5L1176.4,1065.3L1180.4,1063.1L1184.3,1060.9L1188.3,1058.6L1192.3,1056.4L1196.2,1054.3L1200.2,1052.1L1204.2,1049.9L1208.2,1047.8L1212.1,1045.8L1216.1,1043.7L1220.1,1041.8L1224,1039.8L1228,1038L1232,1036.2L1236,1034.5L1239.9,1032.9L1243.9,1031.3L1247.9,1029.9L1251.8,1028.5L1255.8,1027.3L1259.8,1026.1L1263.8,1025.1L1267.7,1024.2L1271.7,1023.4L1275.7,1022.7L1279.7,1022.2L1283.6,1021.7L1287.6,1021.4L1291.6,1021.3L1295.5,1021.2L1299.5,1021.3L1303.5,1021.5L1307.5,1021.8L1311.4,1022.3L1315.4,1022.9L1319.4,1023.6L1323.3,1024.4L1327.3,1025.4L1331.3,1026.4L1335.3,1027.6L1339.2,1028.9L1343.2,1030.3L1347.2,1031.7L1351.1,1033.3L1355.1,1035L1359.1,1036.7L1363.1,1038.5L1367,1040.4L1371,1042.3L1375,1044.3L1378.9,1046.3L1382.9,1048.4L1386.9,1050.5L1390.9,1052.7L1394.8,1054.9L1398.8,1057.1L1402.8,1059.3L1406.8,1061.5L1410.7,1063.7L1414.7,1065.9L1418.7,1068.1L1422.6,1070.3L1426.6,1072.5L1430.6,1074.6L1434.6,1076.7L1438.5,1078.8L1442.5,1080.9L1446.5,1082.9L1450.4,1084.8L1454.4,1086.8L1458.4,1088.6L1462.4,1090.5L1466.3,1092.2L1470.3,1094L1474.3,1095.6L1478.2,1097.3L1482.2,1098.8L1486.2,1100.3L1490.2,1101.7L1494.1,1103.1L1498.1,1104.5L1502.1,1105.7L1506,1106.9L1510,1108.1L1514,1109.2L1518,1110.2L1521.9,1111.2L1525.9,1112.2L1529.9,1113L1533.9,1113.9L1537.8,1114.7L1541.8,1115.4L1545.8,1116.1L1549.7,1116.8L1553.7,1117.4L1557.7,1117.9L1561.7,1118.5L1565.6,1119L1569.6,1119.4L1569.6,1125Z" fill="rgb(0,191,196)" fill-opacity=".5"/>
<path d="M1822.6,1125L1822.6,1119.8L1826.6,1119.7L1830.5,1119.7L1834.5,1119.6L1838.4,1119.6L1842.4,1119.6L1846.3,1119.6L1850.3,1119.5L1854.2,1119.5L1858.2,1119.5L1862.1,1119.5L1866.1,1119.6L1870,1119.6L1874,1119.6L1877.9,1119.6L1881.9,1119.7L1885.8,1119.7L1889.8,1119.8L1889.8,1125Z" fill="rgb(0,191,196)" fill-opacity=".5"/>
<rect class="b" x="1287" y="1129.8" width="16" height="54" rx="8" ry="8" fill-opacity="0.78"/>
<rect class="b" x="1287" y="1140.8" width="16" height="43" rx="8" ry="8" fill-opacity="1"/>
<circle class="d" cx="1855.8" cy="1154.9" r="7.2"/>
<path class="r" d="M1089,1105.4L1093,1104.1L1097,1102.8L1101,1101.4L1105,1099.9L1108.9,1098.4L1112.9,1096.8L1116.9,1095.2L1120.9,1093.5L1124.9,1091.7L1128.9,1089.9L1132.9,1088.1L1136.9,1086.2L1140.8,1084.2L1144.8,1082.2L1148.8,1080.2L1152.8,1078.1L1156.8,1076L1160.8,1073.9L1164.8,1071.7L1168.8,1069.5L1172.8,1067.3L1176.7,1065.1L1180.7,1062.9L1184.7,1060.6L1188.7,1058.4L1192.7,1056.2L1196.7,1054L1200.7,1051.8L1204.7,1049.7L1208.7,1047.6L1212.6,1045.5L1216.6,1043.5L1220.6,1041.5L1224.6,1039.6L1228.6,1037.7L1232.6,1035.9L1236.6,1034.2L1240.6,1032.6L1244.5,1031.1L1248.5,1029.7L1252.5,1028.3L1256.5,1027.1L1260.5,1026L1264.5,1024.9L1268.5,1024L1272.5,1023.3L1276.5,1022.6L1280.4,1022.1L1284.4,1021.7L1288.4,1021.4L1292.4,1021.2L1296.4,1021.2L1300.4,1021.3L1304.4,1021.6L1308.4,1021.9L1312.4,1022.4L1316.3,1023.1L1320.3,1023.8L1324.3,1024.7L1328.3,1025.6L1332.3,1026.7L1336.3,1027.9L1340.3,1029.2L1344.3,1030.7L1348.2,1032.2L1352.2,1033.8L1356.2,1035.4L1360.2,1037.2L1364.2,1039L1368.2,1040.9L1372.2,1042.9L1376.2,1044.9L1380.2,1047L1384.1,1049.1L1388.1,1051.2L1392.1,1053.4L1396.1,1055.6L1400.1,1057.8L1404.1,1060L1408.1,1062.2L1412.1,1064.4L1416.1,1066.7L1420,1068.9L1424,1071.1L1428,1073.2L1432,1075.4L1436,1077.5L1440,1079.6L1444,1081.6L1448,1083.6L1451.9,1085.6L1455.9,1087.5L1459.9,1089.4L1463.9,1091.2L1467.9,1092.9L1471.9,1094.6L1475.9,1096.3L1479.9,1097.9L1483.9,1099.4L1487.8,1100.9L1491.8,1102.3L1495.8,1103.7L1499.8,1105L1503.8,1106.3L1507.8,1107.4L1511.8,1108.6L1515.8,1109.7L1519.8,1110.7L1523.7,1111.7L1527.7,1112.6L1531.7,1113.4L1535.7,1114.3L1539.7,1115L1543.7,1115.8L1547.7,1116.4L1551.7,1117.1L1555.6,1117.7L1559.6,1118.2L1563.6,1118.7L1567.6,1119.2L1571.6,1119.6"/>
<path class="r" d="M1820.6,1119.8L1824.6,1119.7L1828.5,1119.7L1832.5,1119.7L1836.4,1119.6L1840.4,1119.6L1844.3,1119.6L1848.3,1119.5L1852.2,1119.5L1856.2,1119.5L1860.2,1119.5L1864.1,1119.6L1868.1,1119.6L1872,1119.6L1876,1119.6L1879.9,1119.7L1883.9,1119.7L1887.8,1119.8L1891.8,1119.8"/>
<path d="M1089,1240L1089,1220.2L1093,1218.9L1096.9,1217.6L1100.9,1216.1L1104.9,1214.7L1108.9,1213.1L1112.8,1211.5L1116.8,1209.9L1120.8,1208.2L1124.8,1206.4L1128.7,1204.6L1132.7,1202.8L1136.7,1200.9L1140.7,1198.9L1144.6,1196.9L1148.6,1194.8L1152.6,1192.8L1156.6,1190.6L1160.5,1188.5L1164.5,1186.3L1168.5,1184.1L1172.5,1181.9L1176.4,1179.7L1180.4,1177.4L1184.4,1175.2L1188.4,1173L1192.3,1170.7L1196.3,1168.5L1200.3,1166.3L1204.3,1164.1L1208.2,1162L1212.2,1159.9L1216.2,1157.9L1220.2,1155.9L1224.1,1153.9L1228.1,1152L1232.1,1150.2L1236.1,1148.5L1240,1146.9L1244,1145.3L1248,1143.8L1252,1142.5L1255.9,1141.2L1259.9,1140L1263.9,1139L1267.9,1138.1L1271.8,1137.3L1275.8,1136.6L1279.8,1136L1283.8,1135.5L1287.7,1135.2L1291.7,1135L1295.7,1135L1299.7,1135.1L1303.6,1135.3L1307.6,1135.6L1311.6,1136L1315.6,1136.6L1319.5,1137.3L1323.5,1138.1L1327.5,1139.1L1331.5,1140.1L1335.4,1141.3L1339.4,1142.5L1343.4,1143.9L1347.3,1145.4L1351.3,1146.9L1355.3,1148.6L1359.3,1150.3L1363.2,1152.1L1367.2,1153.9L1371.2,1155.8L1375.2,1157.8L1379.1,1159.8L1383.1,1161.9L1387.1,1164L1391.1,1166.1L1395,1168.3L1399,1170.5L1403,1172.6L1407,1174.8L1410.9,1177L1414.9,1179.2L1418.9,1181.4L1422.9,1183.6L1426.8,1185.7L1430.8,1187.8L1434.8,1189.9L1438.8,1192L1442.7,1194L1446.7,1196L1450.7,1197.9L1454.7,1199.8L1458.6,1201.7L1462.6,1203.5L1466.6,1205.2L1470.6,1206.9L1474.5,1208.6L1478.5,1210.1L1482.5,1211.7L1486.5,1213.2L1490.4,1214.6L1494.4,1215.9L1498.4,1217.3L1502.4,1218.5L1506.3,1219.7L1510.3,1220.9L1514.3,1222L1518.3,1223L1522.2,1224L1526.2,1224.9L1530.2,1225.8L1534.2,1226.7L1538.1,1227.5L1542.1,1228.2L1546.1,1228.9L1550.1,1229.6L1554,1230.2L1558,1230.8L1562,1231.4L1566,1231.9L1569.9,1232.4L1573.9,1232.8L1577.9,1233.3L1581.9,1233.7L1585.8,1234L1589.8,1234.4L1589.8,1240Z" fill="rgb(0,193,159)" fill-opacity=".5"/>
<rect class="b" x="1287" y="1238.7" width="16" height="58.7" rx="8" ry="8"/>
<circle class="d" cx="1536.7" cy="1254" r="7.2"/>
<circle class="d" cx="1843.9" cy="1290" r="7.2"/>
<path class="r" d="M1089,1220.2L1093,1218.9L1097,1217.6L1101,1216.1L1105,1214.6L1109,1213.1L1112.9,1211.5L1116.9,1209.9L1120.9,1208.1L1124.9,1206.4L1128.9,1204.6L1132.9,1202.7L1136.9,1200.8L1140.9,1198.8L1144.9,1196.8L1148.9,1194.7L1152.8,1192.6L1156.8,1190.5L1160.8,1188.3L1164.8,1186.2L1168.8,1183.9L1172.8,1181.7L1176.8,1179.5L1180.8,1177.2L1184.8,1175L1188.8,1172.7L1192.8,1170.5L1196.7,1168.3L1200.7,1166.1L1204.7,1163.9L1208.7,1161.8L1212.7,1159.7L1216.7,1157.6L1220.7,1155.6L1224.7,1153.7L1228.7,1151.8L1232.7,1150L1236.6,1148.3L1240.6,1146.6L1244.6,1145.1L1248.6,1143.6L1252.6,1142.3L1256.6,1141L1260.6,1139.9L1264.6,1138.8L1268.6,1137.9L1272.6,1137.1L1276.6,1136.4L1280.5,1135.9L1284.5,1135.5L1288.5,1135.2L1292.5,1135L1296.5,1135L1300.5,1135.1L1304.5,1135.3L1308.5,1135.7L1312.5,1136.2L1316.5,1136.8L1320.4,1137.5L1324.4,1138.3L1328.4,1139.3L1332.4,1140.4L1336.4,1141.6L1340.4,1142.9L1344.4,1144.3L1348.4,1145.8L1352.4,1147.3L1356.4,1149L1360.4,1150.7L1364.3,1152.6L1368.3,1154.4L1372.3,1156.4L1376.3,1158.4L1380.3,1160.4L1384.3,1162.5L1388.3,1164.6L1392.3,1166.8L1396.3,1168.9L1400.3,1171.1L1404.2,1173.3L1408.2,1175.5L1412.2,1177.7L1416.2,1179.9L1420.2,1182.1L1424.2,1184.3L1428.2,1186.4L1432.2,1188.5L1436.2,1190.6L1440.2,1192.7L1444.2,1194.7L1448.1,1196.7L1452.1,1198.6L1456.1,1200.5L1460.1,1202.3L1464.1,1204.1L1468.1,1205.9L1472.1,1207.5L1476.1,1209.2L1480.1,1210.8L1484.1,1212.3L1488,1213.7L1492,1215.1L1496,1216.5L1500,1217.8L1504,1219L1508,1220.2L1512,1221.3L1516,1222.4L1520,1223.4L1524,1224.4L1528,1225.3L1531.9,1226.2L1535.9,1227L1539.9,1227.8L1543.9,1228.5L1547.9,1229.2L1551.9,1229.9L1555.9,1230.5L1559.9,1231.1L1563.9,1231.6L1567.9,1232.1L1571.8,1232.6L1575.8,1233L1579.8,1233.5L1583.8,1233.9L1587.8,1234.2L1591.8,1234.6"/>
<path d="M1089,1355L1089,1334.5L1093,1333.2L1096.9,1331.8L1100.9,1330.3L1104.9,1328.8L1108.9,1327.2L1112.8,1325.6L1116.8,1323.9L1120.8,1322.1L1124.7,1320.3L1128.7,1318.4L1132.7,1316.5L1136.7,1314.5L1140.6,1312.5L1144.6,1310.4L1148.6,1308.3L1152.6,1306.2L1156.5,1304L1160.5,1301.7L1164.5,1299.5L1168.4,1297.2L1172.4,1294.9L1176.4,1292.6L1180.4,1290.3L1184.3,1288L1188.3,1285.7L1192.3,1283.4L1196.2,1281.1L1200.2,1278.8L1204.2,1276.6L1208.2,1274.4L1212.1,1272.2L1216.1,1270.1L1220.1,1268L1224,1266L1228,1264.1L1232,1262.2L1236,1260.5L1239.9,1258.8L1243.9,1257.2L1247.9,1255.6L1251.8,1254.2L1255.8,1252.9L1259.8,1251.7L1263.8,1250.7L1267.7,1249.7L1271.7,1248.9L1275.7,1248.2L1279.7,1247.6L1283.6,1247.1L1287.6,1246.8L1291.6,1246.6L1295.5,1246.6L1299.5,1246.7L1303.5,1246.9L1307.5,1247.2L1311.4,1247.7L1315.4,1248.3L1319.4,1249.1L1323.3,1250L1327.3,1250.9L1331.3,1252.1L1335.3,1253.3L1339.2,1254.6L1343.2,1256.1L1347.2,1257.6L1351.1,1259.2L1355.1,1260.9L1359.1,1262.8L1363.1,1264.6L1367,1266.6L1371,1268.6L1375,1270.7L1378.9,1272.8L1382.9,1275L1386.9,1277.2L1390.9,1279.5L1394.8,1281.7L1398.8,1284L1402.8,1286.3L1406.8,1288.6L1410.7,1291L1414.7,1293.3L1418.7,1295.6L1422.6,1297.9L1426.6,1300.1L1430.6,1302.4L1434.6,1304.6L1438.5,1306.8L1442.5,1308.9L1446.5,1311L1450.4,1313.1L1454.4,1315.1L1458.4,1317L1462.4,1318.9L1466.3,1320.8L1470.3,1322.6L1474.3,1324.3L1478.2,1326L1482.2,1327.6L1486.2,1329.2L1490.2,1330.7L1494.1,1332.2L1498.1,1333.5L1502.1,1334.9L1506,1336.1L1510,1337.3L1514,1338.5L1518,1339.6L1521.9,1340.6L1525.9,1341.6L1529.9,1342.5L1533.9,1343.4L1537.8,1344.2L1541.8,1345L1545.8,1345.8L1549.7,1346.4L1553.7,1347.1L1557.7,1347.7L1561.7,1348.3L1565.6,1348.8L1569.6,1349.3L1569.6,1355Z" fill="rgb(0,191,116)" fill-opacity=".5"/>
<rect class="b" x="1287" y="1353.2" width="16" height="60.6" rx="8" ry="8"/>
<circle class="d" cx="1763.1" cy="1370" r="7.2"/>
<circle class="d" cx="1814.1" cy="1395.8" r="7.2"/>
<path class="r" d="M1089,1334.5L1093,1333.2L1097,1331.8L1101,1330.3L1105,1328.8L1108.9,1327.2L1112.9,1325.5L1116.9,1323.8L1120.9,1322.1L1124.9,1320.2L1128.9,1318.3L1132.9,1316.4L1136.9,1314.4L1140.8,1312.4L1144.8,1310.3L1148.8,1308.2L1152.8,1306L1156.8,1303.8L1160.8,1301.6L1164.8,1299.3L1168.8,1297L1172.8,1294.7L1176.7,1292.4L1180.7,1290.1L1184.7,1287.8L1188.7,1285.5L1192.7,1283.1L1196.7,1280.8L1200.7,1278.6L1204.7,1276.3L1208.7,1274.1L1212.6,1272L1216.6,1269.8L1220.6,1267.8L1224.6,1265.8L1228.6,1263.8L1232.6,1262L1236.6,1260.2L1240.6,1258.5L1244.5,1256.9L1248.5,1255.4L1252.5,1254L1256.5,1252.7L1260.5,1251.5L1264.5,1250.5L1268.5,1249.5L1272.5,1248.7L1276.5,1248L1280.4,1247.5L1284.4,1247.1L1288.4,1246.8L1292.4,1246.6L1296.4,1246.6L1300.4,1246.7L1304.4,1247L1308.4,1247.3L1312.4,1247.9L1316.3,1248.5L1320.3,1249.3L1324.3,1250.2L1328.3,1251.2L1332.3,1252.4L1336.3,1253.6L1340.3,1255L1344.3,1256.5L1348.2,1258L1352.2,1259.7L1356.2,1261.4L1360.2,1263.3L1364.2,1265.2L1368.2,1267.2L1372.2,1269.2L1376.2,1271.3L1380.2,1273.5L1384.1,1275.7L1388.1,1277.9L1392.1,1280.2L1396.1,1282.5L1400.1,1284.8L1404.1,1287.1L1408.1,1289.4L1412.1,1291.7L1416.1,1294.1L1420,1296.4L1424,1298.6L1428,1300.9L1432,1303.2L1436,1305.4L1440,1307.5L1444,1309.7L1448,1311.8L1451.9,1313.8L1455.9,1315.8L1459.9,1317.8L1463.9,1319.7L1467.9,1321.5L1471.9,1323.3L1475.9,1325L1479.9,1326.7L1483.9,1328.3L1487.8,1329.8L1491.8,1331.3L1495.8,1332.8L1499.8,1334.1L1503.8,1335.4L1507.8,1336.7L1511.8,1337.9L1515.8,1339L1519.8,1340.1L1523.7,1341.1L1527.7,1342L1531.7,1342.9L1535.7,1343.8L1539.7,1344.6L1543.7,1345.4L1547.7,1346.1L1551.7,1346.8L1555.6,1347.4L1559.6,1348L1563.6,1348.5L1567.6,1349L1571.6,1349.5"/>
<path d="M1089,1470L1089,1450L1093,1448.7L1097,1447.3L1101,1445.9L1105,1444.4L1109,1442.8L1112.9,1441.2L1116.9,1439.5L1120.9,1437.8L1124.9,1436L1128.9,1434.2L1132.9,1432.3L1136.9,1430.3L1140.9,1428.3L1144.9,1426.3L1148.9,1424.2L1152.8,1422.1L1156.8,1420L1160.8,1417.8L1164.8,1415.6L1168.8,1413.3L1172.8,1411.1L1176.8,1408.8L1180.8,1406.6L1184.8,1404.3L1188.8,1402L1192.8,1399.8L1196.7,1397.5L1200.7,1395.3L1204.7,1393.1L1208.7,1390.9L1212.7,1388.8L1216.7,1386.7L1220.7,1384.7L1224.7,1382.8L1228.7,1380.9L1232.7,1379.1L1236.6,1377.3L1240.6,1375.7L1244.6,1374.1L1248.6,1372.6L1252.6,1371.3L1256.6,1370L1260.6,1368.9L1264.6,1367.8L1268.6,1366.9L1272.6,1366.1L1276.5,1365.5L1280.5,1364.9L1284.5,1364.5L1288.5,1364.2L1292.5,1364.1L1296.5,1364.1L1300.5,1364.2L1304.5,1364.4L1308.5,1364.8L1312.5,1365.3L1316.5,1365.9L1320.4,1366.7L1324.4,1367.6L1328.4,1368.6L1332.4,1369.7L1336.4,1370.9L1340.4,1372.3L1344.4,1373.7L1348.4,1375.2L1352.4,1376.9L1356.4,1378.6L1360.3,1380.4L1364.3,1382.2L1368.3,1384.2L1372.3,1386.2L1376.3,1388.2L1380.3,1390.3L1384.3,1392.4L1388.3,1394.6L1392.3,1396.8L1396.3,1399L1400.3,1401.3L1404.2,1403.5L1408.2,1405.8L1412.2,1408.1L1416.2,1410.3L1420.2,1412.5L1424.2,1414.8L1428.2,1417L1432.2,1419.1L1436.2,1421.3L1440.2,1423.4L1444.1,1425.4L1448.1,1427.5L1452.1,1429.4L1456.1,1431.4L1460.1,1433.2L1464.1,1435L1468.1,1436.8L1472.1,1438.5L1476.1,1440.2L1480.1,1441.8L1484,1443.3L1488,1444.8L1492,1446.2L1496,1447.6L1500,1448.8L1504,1450.1L1508,1451.3L1512,1452.4L1516,1453.4L1520,1454.4L1524,1455.4L1527.9,1456.3L1531.9,1457.1L1535.9,1457.9L1539.9,1458.7L1543.9,1459.4L1547.9,1460L1551.9,1460.6L1555.9,1461.2L1559.9,1461.7L1563.9,1462.2L1567.8,1462.7L1571.8,1463.1L1575.8,1463.5L1579.8,1463.9L1583.8,1464.2L1587.8,1464.5L1587.8,1470Z" fill="rgb(0,186,56)" fill-opacity=".5"/>
<rect class="b" x="1287" y="1468.8" width="16" height="59" rx="8" ry="8"/>
<circle class="d" cx="1658.9" cy="1484.9" r="7.2"/>
<circle class="d" cx="1653" cy="1492.1" r="7.2"/>
<circle class="d" cx="1913.8" cy="1520.8" r="7.2"/>
<path class="r" d="M1089,1450L1093,1448.7L1096.9,1447.3L1100.9,1445.9L1104.9,1444.4L1108.9,1442.8L1112.8,1441.2L1116.8,1439.6L1120.8,1437.9L1124.8,1436.1L1128.7,1434.2L1132.7,1432.4L1136.7,1430.4L1140.7,1428.4L1144.6,1426.4L1148.6,1424.4L1152.6,1422.3L1156.6,1420.1L1160.5,1417.9L1164.5,1415.7L1168.5,1413.5L1172.5,1411.3L1176.4,1409L1180.4,1406.8L1184.4,1404.5L1188.4,1402.2L1192.3,1400L1196.3,1397.7L1200.3,1395.5L1204.3,1393.3L1208.2,1391.2L1212.2,1389.1L1216.2,1387L1220.2,1385L1224.1,1383L1228.1,1381.1L1232.1,1379.3L1236.1,1377.6L1240,1375.9L1244,1374.3L1248,1372.9L1252,1371.5L1255.9,1370.2L1259.9,1369.1L1263.9,1368L1267.9,1367.1L1271.8,1366.3L1275.8,1365.6L1279.8,1365L1283.8,1364.6L1287.7,1364.3L1291.7,1364.1L1295.7,1364L1299.7,1364.1L1303.6,1364.4L1307.6,1364.7L1311.6,1365.2L1315.6,1365.8L1319.5,1366.5L1323.5,1367.4L1327.5,1368.3L1331.5,1369.4L1335.4,1370.6L1339.4,1371.9L1343.4,1373.3L1347.3,1374.8L1351.3,1376.4L1355.3,1378.1L1359.3,1379.9L1363.2,1381.7L1367.2,1383.6L1371.2,1385.6L1375.2,1387.6L1379.1,1389.7L1383.1,1391.8L1387.1,1394L1391.1,1396.2L1395,1398.4L1399,1400.6L1403,1402.8L1407,1405.1L1410.9,1407.3L1414.9,1409.6L1418.9,1411.8L1422.9,1414L1426.8,1416.2L1430.8,1418.4L1434.8,1420.5L1438.8,1422.6L1442.7,1424.7L1446.7,1426.7L1450.7,1428.7L1454.7,1430.7L1458.6,1432.5L1462.6,1434.4L1466.6,1436.2L1470.6,1437.9L1474.5,1439.6L1478.5,1441.2L1482.5,1442.7L1486.5,1444.2L1490.4,1445.6L1494.4,1447L1498.4,1448.3L1502.4,1449.6L1506.3,1450.8L1510.3,1451.9L1514.3,1453L1518.3,1454L1522.2,1455L1526.2,1455.9L1530.2,1456.8L1534.2,1457.6L1538.1,1458.3L1542.1,1459.1L1546.1,1459.7L1550.1,1460.4L1554,1460.9L1558,1461.5L1562,1462L1566,1462.5L1569.9,1462.9L1573.9,1463.3L1577.9,1463.7L1581.9,1464L1585.8,1464.4L1589.8,1464.6"/>
<path d="M1089,1585L1089,1564.5L1093,1563.2L1097,1561.7L1101,1560.3L1105,1558.7L1109,1557.1L1113,1555.5L1117,1553.7L1121,1552L1125,1550.1L1129,1548.2L1133,1546.3L1137,1544.3L1141,1542.2L1145,1540.2L1149,1538L1153,1535.8L1157,1533.6L1161,1531.4L1165,1529.1L1169,1526.8L1173,1524.5L1177,1522.2L1181,1519.9L1185,1517.5L1189,1515.2L1193,1512.9L1197,1510.6L1201,1508.3L1205,1506L1209,1503.8L1212.9,1501.6L1216.9,1499.5L1220.9,1497.5L1224.9,1495.5L1228.9,1493.5L1232.9,1491.7L1236.9,1489.9L1240.9,1488.2L1244.9,1486.6L1248.9,1485.1L1252.9,1483.7L1256.9,1482.4L1260.9,1481.2L1264.9,1480.2L1268.9,1479.3L1272.9,1478.5L1276.9,1477.8L1280.9,1477.2L1284.9,1476.8L1288.9,1476.6L1292.9,1476.4L1296.9,1476.4L1300.9,1476.6L1304.9,1476.8L1308.9,1477.2L1312.9,1477.8L1316.9,1478.4L1320.9,1479.2L1324.9,1480.2L1328.9,1481.2L1332.9,1482.4L1336.9,1483.6L1340.9,1485L1344.9,1486.5L1348.9,1488.1L1352.9,1489.8L1356.9,1491.6L1360.9,1493.4L1364.9,1495.4L1368.9,1497.4L1372.9,1499.4L1376.9,1501.6L1380.9,1503.7L1384.9,1505.9L1388.9,1508.2L1392.9,1510.5L1396.9,1512.8L1400.9,1515.1L1404.9,1517.4L1408.9,1519.7L1412.9,1522.1L1416.9,1524.4L1420.9,1526.7L1424.9,1529L1428.9,1531.3L1432.9,1533.5L1436.9,1535.7L1440.9,1537.9L1444.9,1540L1448.9,1542.1L1452.8,1544.2L1456.8,1546.2L1460.8,1548.1L1464.8,1550L1468.8,1551.8L1472.8,1553.6L1476.8,1555.3L1480.8,1557L1484.8,1558.6L1488.8,1560.1L1492.8,1561.6L1496.8,1563L1500.8,1564.3L1504.8,1565.6L1508.8,1566.9L1512.8,1568L1516.8,1569.1L1520.8,1570.2L1524.8,1571.2L1528.8,1572.1L1532.8,1573L1536.8,1573.9L1540.8,1574.7L1544.8,1575.4L1548.8,1576.1L1552.8,1576.8L1556.8,1577.4L1560.8,1578L1564.8,1578.5L1568.8,1579L1572.8,1579.4L1572.8,1585Z" fill="rgb(94,179,0)" fill-opacity=".5"/>
<rect class="b" x="1287" y="1583.2" width="16" height="60.6" rx="8" ry="8"/>
<circle class="d" cx="1706.8" cy="1609.9" r="7.2"/>
<path class="r" d="M1089,1564.5L1093,1563.2L1097,1561.7L1100.9,1560.3L1104.9,1558.7L1108.9,1557.2L1112.9,1555.5L1116.9,1553.8L1120.9,1552L1124.8,1550.2L1128.8,1548.3L1132.8,1546.4L1136.8,1544.4L1140.8,1542.4L1144.7,1540.3L1148.7,1538.2L1152.7,1536L1156.7,1533.8L1160.7,1531.6L1164.7,1529.3L1168.6,1527L1172.6,1524.7L1176.6,1522.4L1180.6,1520.1L1184.6,1517.8L1188.5,1515.4L1192.5,1513.1L1196.5,1510.8L1200.5,1508.5L1204.5,1506.3L1208.5,1504.1L1212.4,1501.9L1216.4,1499.8L1220.4,1497.7L1224.4,1495.7L1228.4,1493.8L1232.4,1491.9L1236.3,1490.1L1240.3,1488.4L1244.3,1486.8L1248.3,1485.3L1252.3,1483.9L1256.2,1482.6L1260.2,1481.4L1264.2,1480.4L1268.2,1479.4L1272.2,1478.6L1276.2,1477.9L1280.1,1477.3L1284.1,1476.9L1288.1,1476.6L1292.1,1476.4L1296.1,1476.4L1300,1476.5L1304,1476.8L1308,1477.1L1312,1477.6L1316,1478.3L1320,1479L1323.9,1479.9L1327.9,1480.9L1331.9,1482.1L1335.9,1483.3L1339.9,1484.7L1343.8,1486.1L1347.8,1487.7L1351.8,1489.3L1355.8,1491.1L1359.8,1492.9L1363.8,1494.8L1367.7,1496.8L1371.7,1498.8L1375.7,1500.9L1379.7,1503.1L1383.7,1505.3L1387.6,1507.5L1391.6,1509.8L1395.6,1512L1399.6,1514.3L1403.6,1516.7L1407.6,1519L1411.5,1521.3L1415.5,1523.6L1419.5,1525.9L1423.5,1528.2L1427.5,1530.5L1431.4,1532.7L1435.4,1534.9L1439.4,1537.1L1443.4,1539.3L1447.4,1541.4L1451.4,1543.4L1455.3,1545.4L1459.3,1547.4L1463.3,1549.3L1467.3,1551.1L1471.3,1552.9L1475.3,1554.6L1479.2,1556.3L1483.2,1557.9L1487.2,1559.5L1491.2,1561L1495.2,1562.4L1499.1,1563.8L1503.1,1565.1L1507.1,1566.3L1511.1,1567.5L1515.1,1568.7L1519.1,1569.7L1523,1570.8L1527,1571.7L1531,1572.6L1535,1573.5L1539,1574.3L1542.9,1575.1L1546.9,1575.8L1550.9,1576.5L1554.9,1577.1L1558.9,1577.7L1562.9,1578.2L1566.8,1578.7L1570.8,1579.2L1574.8,1579.7"/>
<path d="M1089,1700L1089,1679.9L1093,1678.5L1096.9,1677.1L1100.9,1675.7L1104.9,1674.2L1108.9,1672.6L1112.8,1671L1116.8,1669.3L1120.8,1667.6L1124.8,1665.8L1128.7,1664L1132.7,1662.1L1136.7,1660.1L1140.7,1658.1L1144.6,1656.1L1148.6,1654L1152.6,1651.9L1156.5,1649.7L1160.5,1647.5L1164.5,1645.3L1168.5,1643.1L1172.4,1640.8L1176.4,1638.6L1180.4,1636.3L1184.4,1634L1188.3,1631.7L1192.3,1629.4L1196.3,1627.2L1200.2,1625L1204.2,1622.8L1208.2,1620.6L1212.2,1618.4L1216.1,1616.4L1220.1,1614.3L1224.1,1612.4L1228.1,1610.4L1232,1608.6L1236,1606.9L1240,1605.2L1244,1603.6L1247.9,1602.1L1251.9,1600.7L1255.9,1599.4L1259.8,1598.3L1263.8,1597.2L1267.8,1596.2L1271.8,1595.4L1275.7,1594.7L1279.7,1594.1L1283.7,1593.7L1287.7,1593.4L1291.6,1593.2L1295.6,1593.2L1299.6,1593.2L1303.6,1593.5L1307.5,1593.8L1311.5,1594.3L1315.5,1594.9L1319.4,1595.6L1323.4,1596.5L1327.4,1597.4L1331.4,1598.5L1335.3,1599.7L1339.3,1601L1343.3,1602.4L1347.3,1604L1351.2,1605.6L1355.2,1607.2L1359.2,1609L1363.1,1610.9L1367.1,1612.8L1371.1,1614.8L1375.1,1616.8L1379,1618.9L1383,1621L1387,1623.2L1391,1625.4L1394.9,1627.7L1398.9,1629.9L1402.9,1632.2L1406.9,1634.4L1410.8,1636.7L1414.8,1639L1418.8,1641.2L1422.7,1643.5L1426.7,1645.7L1430.7,1647.9L1434.7,1650.1L1438.6,1652.2L1442.6,1654.3L1446.6,1656.4L1450.6,1658.4L1454.5,1660.4L1458.5,1662.3L1462.5,1664.1L1466.5,1666L1470.4,1667.7L1474.4,1669.4L1478.4,1671.1L1482.3,1672.7L1486.3,1674.2L1490.3,1675.7L1494.3,1677.1L1498.2,1678.4L1502.2,1679.7L1506.2,1681L1510.2,1682.2L1514.1,1683.3L1518.1,1684.3L1522.1,1685.4L1526,1686.3L1530,1687.2L1534,1688.1L1538,1688.9L1541.9,1689.6L1545.9,1690.3L1549.9,1691L1553.9,1691.6L1557.8,1692.2L1561.8,1692.7L1565.8,1693.2L1569.8,1693.7L1573.7,1694.1L1577.7,1694.5L1577.7,1700Z" fill="rgb(147,170,0)" fill-opacity=".5"/>
<rect class="b" x="1287" y="1698.2" width="16" height="60.6" rx="8" ry="8"/>
<circle class="d" cx="1487" cy="1721.1" r="7.2"/>
<circle class="d" cx="1677" cy="1735.8" r="7.2"/>
<circle class="d" cx="1716" cy="1716.9" r="7.2"/>
<circle class="d" cx="1772.7" cy="1717.7" r="7.2"/>
<circle class="d" cx="1774.5" cy="1741.8" r="7.2"/>
<circle class="d" cx="1783.9" cy="1746.7" r="7.2"/>
<circle class="d" cx="1813.9" cy="1716.9" r="7.2"/>
<circle class="d" cx="1828.1" cy="1726.8" r="7.2"/>
<path class="r" d="M1089,1679.9L1093,1678.5L1097,1677.1L1101,1675.7L1105,1674.2L1108.9,1672.6L1112.9,1671L1116.9,1669.3L1120.9,1667.5L1124.9,1665.7L1128.9,1663.9L1132.9,1662L1136.9,1660L1140.9,1658L1144.9,1656L1148.8,1653.9L1152.8,1651.7L1156.8,1649.6L1160.8,1647.4L1164.8,1645.2L1168.8,1642.9L1172.8,1640.6L1176.8,1638.4L1180.8,1636.1L1184.7,1633.8L1188.7,1631.5L1192.7,1629.2L1196.7,1626.9L1200.7,1624.7L1204.7,1622.5L1208.7,1620.3L1212.7,1618.2L1216.7,1616.1L1220.7,1614.1L1224.6,1612.1L1228.6,1610.2L1232.6,1608.3L1236.6,1606.6L1240.6,1604.9L1244.6,1603.3L1248.6,1601.9L1252.6,1600.5L1256.6,1599.2L1260.5,1598.1L1264.5,1597L1268.5,1596.1L1272.5,1595.3L1276.5,1594.6L1280.5,1594.1L1284.5,1593.6L1288.5,1593.3L1292.5,1593.2L1296.5,1593.2L1300.4,1593.3L1304.4,1593.5L1308.4,1593.9L1312.4,1594.4L1316.4,1595L1320.4,1595.8L1324.4,1596.7L1328.4,1597.7L1332.4,1598.8L1336.3,1600L1340.3,1601.4L1344.3,1602.8L1348.3,1604.4L1352.3,1606L1356.3,1607.7L1360.3,1609.5L1364.3,1611.4L1368.3,1613.4L1372.2,1615.4L1376.2,1617.4L1380.2,1619.5L1384.2,1621.7L1388.2,1623.9L1392.2,1626.1L1396.2,1628.4L1400.2,1630.6L1404.2,1632.9L1408.2,1635.2L1412.1,1637.5L1416.1,1639.7L1420.1,1642L1424.1,1644.2L1428.1,1646.5L1432.1,1648.7L1436.1,1650.8L1440.1,1653L1444.1,1655.1L1448,1657.1L1452,1659.1L1456,1661.1L1460,1663L1464,1664.9L1468,1666.7L1472,1668.4L1476,1670.1L1480,1671.7L1484,1673.3L1487.9,1674.8L1491.9,1676.3L1495.9,1677.7L1499.9,1679L1503.9,1680.3L1507.9,1681.5L1511.9,1682.6L1515.9,1683.8L1519.9,1684.8L1523.8,1685.8L1527.8,1686.7L1531.8,1687.6L1535.8,1688.4L1539.8,1689.2L1543.8,1690L1547.8,1690.7L1551.8,1691.3L1555.8,1691.9L1559.8,1692.5L1563.7,1693L1567.7,1693.5L1571.7,1693.9L1575.7,1694.3L1579.7,1694.7"/>
<path d="M1089,1815L1089,1795L1093,1793.7L1097,1792.3L1100.9,1790.9L1104.9,1789.4L1108.9,1787.8L1112.9,1786.2L1116.9,1784.6L1120.9,1782.8L1124.8,1781L1128.8,1779.2L1132.8,1777.3L1136.8,1775.4L1140.8,1773.4L1144.7,1771.4L1148.7,1769.3L1152.7,1767.2L1156.7,1765L1160.7,1762.9L1164.7,1760.7L1168.6,1758.4L1172.6,1756.2L1176.6,1753.9L1180.6,1751.7L1184.6,1749.4L1188.5,1747.1L1192.5,1744.9L1196.5,1742.6L1200.5,1740.4L1204.5,1738.2L1208.5,1736.1L1212.4,1734L1216.4,1731.9L1220.4,1729.9L1224.4,1727.9L1228.4,1726L1232.4,1724.2L1236.3,1722.5L1240.3,1720.8L1244.3,1719.2L1248.3,1717.8L1252.3,1716.4L1256.2,1715.1L1260.2,1714L1264.2,1712.9L1268.2,1712L1272.2,1711.2L1276.2,1710.5L1280.1,1710L1284.1,1709.6L1288.1,1709.3L1292.1,1709.1L1296.1,1709.1L1300,1709.2L1304,1709.4L1308,1709.8L1312,1710.3L1316,1710.9L1320,1711.6L1323.9,1712.5L1327.9,1713.5L1331.9,1714.6L1335.9,1715.8L1339.9,1717.1L1343.8,1718.5L1347.8,1720.1L1351.8,1721.7L1355.8,1723.4L1359.8,1725.2L1363.8,1727L1367.7,1729L1371.7,1730.9L1375.7,1733L1379.7,1735.1L1383.7,1737.2L1387.6,1739.4L1391.6,1741.6L1395.6,1743.8L1399.6,1746.1L1403.6,1748.3L1407.6,1750.6L1411.5,1752.9L1415.5,1755.1L1419.5,1757.4L1423.5,1759.6L1427.5,1761.8L1431.4,1764L1435.4,1766.2L1439.4,1768.3L1443.4,1770.4L1447.4,1772.4L1451.4,1774.4L1455.3,1776.4L1459.3,1778.3L1463.3,1780.1L1467.3,1781.9L1471.3,1783.7L1475.3,1785.4L1479.2,1787L1483.2,1788.6L1487.2,1790.1L1491.2,1791.5L1495.2,1792.9L1499.1,1794.2L1503.1,1795.5L1507.1,1796.7L1511.1,1797.9L1515.1,1799L1519.1,1800L1523,1801L1527,1801.9L1531,1802.8L1535,1803.7L1539,1804.4L1542.9,1805.2L1546.9,1805.8L1550.9,1806.5L1554.9,1807.1L1558.9,1807.6L1562.9,1808.1L1566.8,1808.6L1570.8,1809L1574.8,1809.5L1574.8,1815Z" fill="rgb(183,159,0)" fill-opacity=".5"/>
<rect class="b" x="1287" y="1813.2" width="16" height="60.6" rx="8" ry="8" fill-opacity="0.85"/>
<rect class="b" x="1287" y="1818.2" width="16" height="55.6" rx="8" ry="8" fill-opacity="1"/>
<circle class="d" cx="1776.9" cy="1854.1" r="7.2"/>
<path class="r" d="M1089,1795L1093,1793.7L1097,1792.3L1101,1790.9L1105,1789.4L1109,1787.8L1113,1786.2L1117,1784.5L1121,1782.8L1125,1781L1129,1779.1L1133,1777.2L1137,1775.3L1141,1773.3L1145,1771.3L1149,1769.2L1153,1767L1157,1764.9L1161,1762.7L1165,1760.5L1169,1758.2L1173,1756L1177,1753.7L1181,1751.4L1185,1749.2L1189,1746.9L1193,1744.6L1197,1742.4L1201,1740.2L1205,1738L1209,1735.8L1212.9,1733.7L1216.9,1731.6L1220.9,1729.6L1224.9,1727.6L1228.9,1725.8L1232.9,1723.9L1236.9,1722.2L1240.9,1720.6L1244.9,1719L1248.9,1717.5L1252.9,1716.2L1256.9,1714.9L1260.9,1713.8L1264.9,1712.8L1268.9,1711.9L1272.9,1711.1L1276.9,1710.4L1280.9,1709.9L1284.9,1709.5L1288.9,1709.2L1292.9,1709.1L1296.9,1709.1L1300.9,1709.2L1304.9,1709.5L1308.9,1709.9L1312.9,1710.4L1316.9,1711L1320.9,1711.8L1324.9,1712.7L1328.9,1713.7L1332.9,1714.9L1336.9,1716.1L1340.9,1717.5L1344.9,1718.9L1348.9,1720.5L1352.9,1722.1L1356.9,1723.9L1360.9,1725.7L1364.9,1727.6L1368.9,1729.5L1372.9,1731.5L1376.9,1733.6L1380.9,1735.7L1384.9,1737.9L1388.9,1740.1L1392.9,1742.3L1396.9,1744.5L1400.9,1746.8L1404.9,1749.1L1408.9,1751.3L1412.9,1753.6L1416.9,1755.9L1420.9,1758.1L1424.9,1760.4L1428.9,1762.6L1432.9,1764.8L1436.9,1766.9L1440.9,1769.1L1444.9,1771.1L1448.9,1773.2L1452.9,1775.2L1456.8,1777.1L1460.8,1779L1464.8,1780.8L1468.8,1782.6L1472.8,1784.4L1476.8,1786L1480.8,1787.6L1484.8,1789.2L1488.8,1790.7L1492.8,1792.1L1496.8,1793.5L1500.8,1794.8L1504.8,1796L1508.8,1797.2L1512.8,1798.4L1516.8,1799.5L1520.8,1800.5L1524.8,1801.4L1528.8,1802.4L1532.8,1803.2L1536.8,1804L1540.8,1804.8L1544.8,1805.5L1548.8,1806.1L1552.8,1806.8L1556.8,1807.3L1560.8,1807.9L1564.8,1808.4L1568.8,1808.8L1572.8,1809.3L1576.8,1809.6"/>
<path d="M1089,1930L1089,1910.1L1093,1908.7L1097,1907.4L1101,1905.9L1105,1904.4L1109,1902.9L1113,1901.3L1117,1899.6L1121,1897.9L1125,1896.1L1129,1894.2L1132.9,1892.3L1136.9,1890.4L1140.9,1888.4L1144.9,1886.4L1148.9,1884.3L1152.9,1882.2L1156.9,1880L1160.9,1877.8L1164.9,1875.6L1168.9,1873.4L1172.9,1871.2L1176.9,1868.9L1180.9,1866.6L1184.9,1864.4L1188.9,1862.1L1192.9,1859.8L1196.9,1857.6L1200.9,1855.4L1204.9,1853.2L1208.9,1851L1212.9,1848.9L1216.8,1846.8L1220.8,1844.8L1224.8,1842.9L1228.8,1841L1232.8,1839.2L1236.8,1837.4L1240.8,1835.8L1244.8,1834.2L1248.8,1832.7L1252.8,1831.4L1256.8,1830.1L1260.8,1829L1264.8,1827.9L1268.8,1827L1272.8,1826.2L1276.8,1825.6L1280.8,1825L1284.8,1824.6L1288.8,1824.3L1292.8,1824.2L1296.8,1824.2L1300.7,1824.3L1304.7,1824.5L1308.7,1824.9L1312.7,1825.4L1316.7,1826L1320.7,1826.8L1324.7,1827.7L1328.7,1828.7L1332.7,1829.8L1336.7,1831L1340.7,1832.3L1344.7,1833.8L1348.7,1835.3L1352.7,1836.9L1356.7,1838.6L1360.7,1840.4L1364.7,1842.3L1368.7,1844.2L1372.7,1846.2L1376.7,1848.2L1380.7,1850.3L1384.6,1852.4L1388.6,1854.6L1392.6,1856.7L1396.6,1859L1400.6,1861.2L1404.6,1863.4L1408.6,1865.7L1412.6,1867.9L1416.6,1870.1L1420.6,1872.3L1424.6,1874.5L1428.6,1876.7L1432.6,1878.9L1436.6,1881L1440.6,1883.1L1444.6,1885.1L1448.6,1887.1L1452.6,1889.1L1456.6,1891L1460.6,1892.8L1464.6,1894.6L1468.5,1896.4L1472.5,1898.1L1476.5,1899.7L1480.5,1901.3L1484.5,1902.8L1488.5,1904.3L1492.5,1905.7L1496.5,1907.1L1500.5,1908.3L1504.5,1909.6L1508.5,1910.7L1512.5,1911.9L1516.5,1912.9L1520.5,1913.9L1524.5,1914.9L1528.5,1915.8L1532.5,1916.6L1536.5,1917.4L1540.5,1918.2L1544.5,1918.9L1548.5,1919.5L1552.4,1920.2L1556.4,1920.8L1560.4,1921.3L1564.4,1921.8L1568.4,1922.3L1572.4,1922.7L1576.4,1923.1L1580.4,1923.5L1584.4,1923.9L1588.4,1924.2L1592.4,1924.5L1592.4,1930Z" fill="rgb(211,146,0)" fill-opacity=".5"/>
<rect class="b" x="1287" y="1928.2" width="16" height="60.6" rx="8" ry="8"/>
<circle class="d" cx="1518.8" cy="1939" r="7.2"/>
<circle class="d" cx="1658.9" cy="1950.9" r="7.2"/>
<circle class="d" cx="1652.9" cy="1979.9" r="7.2"/>
<circle class="d" cx="1913.8" cy="1955.8" r="7.2"/>
<path class="r" d="M1089,1910.1L1093,1908.7L1097,1907.4L1100.9,1905.9L1104.9,1904.4L1108.9,1902.9L1112.9,1901.3L1116.9,1899.6L1120.8,1897.9L1124.8,1896.1L1128.8,1894.3L1132.8,1892.4L1136.8,1890.5L1140.7,1888.5L1144.7,1886.5L1148.7,1884.4L1152.7,1882.3L1156.7,1880.2L1160.6,1878L1164.6,1875.8L1168.6,1873.6L1172.6,1871.3L1176.5,1869.1L1180.5,1866.8L1184.5,1864.6L1188.5,1862.3L1192.5,1860.1L1196.4,1857.8L1200.4,1855.6L1204.4,1853.4L1208.4,1851.3L1212.4,1849.2L1216.3,1847.1L1220.3,1845.1L1224.3,1843.1L1228.3,1841.2L1232.3,1839.4L1236.2,1837.7L1240.2,1836L1244.2,1834.4L1248.2,1833L1252.2,1831.6L1256.1,1830.3L1260.1,1829.2L1264.1,1828.1L1268.1,1827.2L1272.1,1826.4L1276,1825.7L1280,1825.1L1284,1824.7L1288,1824.4L1292,1824.2L1295.9,1824.2L1299.9,1824.3L1303.9,1824.5L1307.9,1824.8L1311.9,1825.3L1315.8,1825.9L1319.8,1826.6L1323.8,1827.5L1327.8,1828.4L1331.8,1829.5L1335.7,1830.7L1339.7,1832L1343.7,1833.4L1347.7,1834.9L1351.6,1836.5L1355.6,1838.2L1359.6,1839.9L1363.6,1841.7L1367.6,1843.6L1371.5,1845.6L1375.5,1847.6L1379.5,1849.7L1383.5,1851.8L1387.5,1853.9L1391.4,1856.1L1395.4,1858.3L1399.4,1860.5L1403.4,1862.7L1407.4,1865L1411.3,1867.2L1415.3,1869.4L1419.3,1871.6L1423.3,1873.8L1427.3,1876L1431.2,1878.1L1435.2,1880.3L1439.2,1882.3L1443.2,1884.4L1447.2,1886.4L1451.1,1888.4L1455.1,1890.3L1459.1,1892.2L1463.1,1894L1467.1,1895.7L1471,1897.5L1475,1899.1L1479,1900.7L1483,1902.2L1487,1903.7L1490.9,1905.2L1494.9,1906.5L1498.9,1907.8L1502.9,1909.1L1506.9,1910.3L1510.8,1911.4L1514.8,1912.5L1518.8,1913.5L1522.8,1914.5L1526.7,1915.4L1530.7,1916.3L1534.7,1917.1L1538.7,1917.8L1542.7,1918.6L1546.6,1919.3L1550.6,1919.9L1554.6,1920.5L1558.6,1921L1562.6,1921.6L1566.5,1922.1L1570.5,1922.5L1574.5,1922.9L1578.5,1923.3L1582.5,1923.7L1586.4,1924L1590.4,1924.3L1594.4,1924.6"/>
<path d="M1089,2045L1089,2024.4L1093,2023L1096.9,2021.6L1100.9,2020.1L1104.9,2018.6L1108.9,2017L1112.8,2015.3L1116.8,2013.6L1120.8,2011.9L1124.7,2010L1128.7,2008.1L1132.7,2006.2L1136.7,2004.2L1140.6,2002.2L1144.6,2000.1L1148.6,1998L1152.6,1995.8L1156.5,1993.6L1160.5,1991.3L1164.5,1989.1L1168.4,1986.8L1172.4,1984.5L1176.4,1982.2L1180.4,1979.8L1184.3,1977.5L1188.3,1975.2L1192.3,1972.8L1196.2,1970.5L1200.2,1968.2L1204.2,1966L1208.2,1963.8L1212.1,1961.6L1216.1,1959.5L1220.1,1957.4L1224,1955.4L1228,1953.4L1232,1951.5L1236,1949.7L1239.9,1948L1243.9,1946.4L1247.9,1944.9L1251.8,1943.5L1255.8,1942.1L1259.8,1940.9L1263.8,1939.9L1267.7,1938.9L1271.7,1938.1L1275.7,1937.3L1279.7,1936.8L1283.6,1936.3L1287.6,1936L1291.6,1935.8L1295.5,1935.8L1299.5,1935.8L1303.5,1936.1L1307.5,1936.4L1311.4,1936.9L1315.4,1937.5L1319.4,1938.3L1323.3,1939.1L1327.3,1940.1L1331.3,1941.3L1335.3,1942.5L1339.2,1943.8L1343.2,1945.3L1347.2,1946.8L1351.1,1948.5L1355.1,1950.2L1359.1,1952L1363.1,1953.9L1367,1955.9L1371,1957.9L1375,1960L1378.9,1962.2L1382.9,1964.4L1386.9,1966.6L1390.9,1968.9L1394.8,1971.2L1398.8,1973.5L1402.8,1975.8L1406.8,1978.1L1410.7,1980.5L1414.7,1982.8L1418.7,1985.1L1422.6,1987.4L1426.6,1989.7L1430.6,1992L1434.6,1994.2L1438.5,1996.4L1442.5,1998.5L1446.5,2000.7L1450.4,2002.7L1454.4,2004.8L1458.4,2006.7L1462.4,2008.7L1466.3,2010.5L1470.3,2012.4L1474.3,2014.1L1478.2,2015.8L1482.2,2017.5L1486.2,2019L1490.2,2020.6L1494.1,2022L1498.1,2023.4L1502.1,2024.7L1506,2026L1510,2027.3L1514,2028.4L1518,2029.5L1521.9,2030.6L1525.9,2031.6L1529.9,2032.5L1533.9,2033.4L1537.8,2034.2L1541.8,2035L1545.8,2035.8L1549.7,2036.5L1553.7,2037.1L1557.7,2037.7L1561.7,2038.3L1565.6,2038.9L1569.6,2039.4L1569.6,2045Z" fill="rgb(232,133,38)" fill-opacity=".5"/>
<rect class="b" x="1287" y="2043.2" width="16" height="60.6" rx="8" ry="8" fill-opacity="0.85"/>
<rect class="b" x="1287" y="2046.2" width="16" height="54.6" rx="8" ry="8" fill-opacity="0.7"/>
<path class="r" d="M1089,2024.4L1093,2023L1097,2021.6L1101,2020.1L1105,2018.6L1108.9,2017L1112.9,2015.3L1116.9,2013.6L1120.9,2011.8L1124.9,2010L1128.9,2008.1L1132.9,2006.1L1136.9,2004.1L1140.8,2002.1L1144.8,2000L1148.8,1997.8L1152.8,1995.6L1156.8,1993.4L1160.8,1991.2L1164.8,1988.9L1168.8,1986.6L1172.8,1984.3L1176.7,1981.9L1180.7,1979.6L1184.7,1977.3L1188.7,1974.9L1192.7,1972.6L1196.7,1970.3L1200.7,1968L1204.7,1965.7L1208.7,1963.5L1212.6,1961.3L1216.6,1959.2L1220.6,1957.1L1224.6,1955.1L1228.6,1953.1L1232.6,1951.3L1236.6,1949.5L1240.6,1947.8L1244.5,1946.1L1248.5,1944.6L1252.5,1943.2L1256.5,1941.9L1260.5,1940.7L1264.5,1939.7L1268.5,1938.7L1272.5,1937.9L1276.5,1937.2L1280.4,1936.7L1284.4,1936.2L1288.4,1935.9L1292.4,1935.8L1296.4,1935.8L1300.4,1935.9L1304.4,1936.1L1308.4,1936.5L1312.4,1937L1316.3,1937.7L1320.3,1938.5L1324.3,1939.4L1328.3,1940.4L1332.3,1941.6L1336.3,1942.8L1340.3,1944.2L1344.3,1945.7L1348.2,1947.3L1352.2,1949L1356.2,1950.7L1360.2,1952.6L1364.2,1954.5L1368.2,1956.5L1372.2,1958.6L1376.2,1960.7L1380.2,1962.8L1384.1,1965.1L1388.1,1967.3L1392.1,1969.6L1396.1,1971.9L1400.1,1974.2L1404.1,1976.6L1408.1,1978.9L1412.1,1981.3L1416.1,1983.6L1420,1985.9L1424,1988.2L1428,1990.5L1432,1992.8L1436,1995L1440,1997.2L1444,1999.3L1448,2001.4L1451.9,2003.5L1455.9,2005.5L1459.9,2007.5L1463.9,2009.4L1467.9,2011.3L1471.9,2013.1L1475.9,2014.8L1479.9,2016.5L1483.9,2018.1L1487.8,2019.7L1491.8,2021.2L1495.8,2022.6L1499.8,2024L1503.8,2025.3L1507.8,2026.6L1511.8,2027.8L1515.8,2028.9L1519.8,2030L1523.7,2031L1527.7,2032L1531.7,2032.9L1535.7,2033.8L1539.7,2034.6L1543.7,2035.4L1547.7,2036.1L1551.7,2036.8L1555.6,2037.4L1559.6,2038L1563.6,2038.6L1567.6,2039.1L1571.6,2039.6"/>
<path d="M1089,2160L1089,2139.5L1093,2138.1L1097,2136.7L1101,2135.2L1105,2133.7L1109,2132.1L1113,2130.4L1117,2128.7L1121,2126.9L1124.9,2125.1L1128.9,2123.2L1132.9,2121.3L1136.9,2119.3L1140.9,2117.2L1144.9,2115.1L1148.9,2113L1152.9,2110.8L1156.9,2108.6L1160.9,2106.4L1164.9,2104.1L1168.9,2101.8L1172.9,2099.5L1176.9,2097.2L1180.9,2094.8L1184.9,2092.5L1188.9,2090.2L1192.8,2087.8L1196.8,2085.5L1200.8,2083.2L1204.8,2081L1208.8,2078.8L1212.8,2076.6L1216.8,2074.5L1220.8,2072.4L1224.8,2070.4L1228.8,2068.5L1232.8,2066.6L1236.8,2064.8L1240.8,2063.1L1244.8,2061.5L1248.8,2060L1252.8,2058.6L1256.8,2057.3L1260.8,2056.2L1264.7,2055.1L1268.7,2054.2L1272.7,2053.4L1276.7,2052.7L1280.7,2052.1L1284.7,2051.7L1288.7,2051.4L1292.7,2051.3L1296.7,2051.3L1300.7,2051.4L1304.7,2051.7L1308.7,2052.1L1312.7,2052.6L1316.7,2053.2L1320.7,2054L1324.7,2054.9L1328.7,2056L1332.6,2057.1L1336.6,2058.4L1340.6,2059.8L1344.6,2061.3L1348.6,2062.9L1352.6,2064.5L1356.6,2066.3L1360.6,2068.2L1364.6,2070.1L1368.6,2072.1L1372.6,2074.1L1376.6,2076.3L1380.6,2078.4L1384.6,2080.6L1388.6,2082.9L1392.6,2085.2L1396.6,2087.5L1400.5,2089.8L1404.5,2092.1L1408.5,2094.4L1412.5,2096.8L1416.5,2099.1L1420.5,2101.4L1424.5,2103.7L1428.5,2106L1432.5,2108.2L1436.5,2110.4L1440.5,2112.6L1444.5,2114.7L1448.5,2116.8L1452.5,2118.8L1456.5,2120.8L1460.5,2122.8L1464.5,2124.7L1468.5,2126.5L1472.4,2128.3L1476.4,2130L1480.4,2131.7L1484.4,2133.3L1488.4,2134.8L1492.4,2136.3L1496.4,2137.7L1500.4,2139.1L1504.4,2140.4L1508.4,2141.6L1512.4,2142.8L1516.4,2143.9L1520.4,2144.9L1524.4,2146L1528.4,2146.9L1532.4,2147.8L1536.4,2148.7L1540.3,2149.5L1544.3,2150.2L1548.3,2150.9L1552.3,2151.6L1556.3,2152.2L1560.3,2152.8L1564.3,2153.3L1568.3,2153.8L1572.3,2154.3L1572.3,2160Z" fill="rgb(248,118,109)" fill-opacity=".5"/>
<rect class="b" x="1287" y="2158.2" width="16" height="60.6" rx="8" ry="8"/>
<circle class="d" cx="1641.8" cy="2180.9" r="7.2"/>
<path class="r" d="M1089,2139.5L1093,2138.1L1097,2136.7L1100.9,2135.2L1104.9,2133.7L1108.9,2132.1L1112.9,2130.5L1116.8,2128.8L1120.8,2127L1124.8,2125.2L1128.8,2123.3L1132.8,2121.4L1136.7,2119.4L1140.7,2117.3L1144.7,2115.2L1148.7,2113.1L1152.6,2111L1156.6,2108.8L1160.6,2106.5L1164.6,2104.3L1168.6,2102L1172.5,2099.7L1176.5,2097.4L1180.5,2095L1184.5,2092.7L1188.4,2090.4L1192.4,2088.1L1196.4,2085.8L1200.4,2083.5L1204.4,2081.3L1208.3,2079L1212.3,2076.9L1216.3,2074.8L1220.3,2072.7L1224.2,2070.7L1228.2,2068.7L1232.2,2066.9L1236.2,2065.1L1240.2,2063.4L1244.1,2061.8L1248.1,2060.3L1252.1,2058.8L1256.1,2057.5L1260,2056.4L1264,2055.3L1268,2054.3L1272,2053.5L1276,2052.8L1279.9,2052.2L1283.9,2051.8L1287.9,2051.5L1291.9,2051.3L1295.8,2051.3L1299.8,2051.4L1303.8,2051.6L1307.8,2052L1311.8,2052.4L1315.7,2053.1L1319.7,2053.8L1323.7,2054.7L1327.7,2055.7L1331.7,2056.8L1335.6,2058.1L1339.6,2059.4L1343.6,2060.9L1347.6,2062.4L1351.5,2064.1L1355.5,2065.8L1359.5,2067.6L1363.5,2069.5L1367.5,2071.5L1371.4,2073.5L1375.4,2075.6L1379.4,2077.8L1383.4,2080L1387.3,2082.2L1391.3,2084.4L1395.3,2086.7L1399.3,2089L1403.3,2091.3L1407.2,2093.7L1411.2,2096L1415.2,2098.3L1419.2,2100.6L1423.1,2102.9L1427.1,2105.2L1431.1,2107.4L1435.1,2109.6L1439.1,2111.8L1443,2113.9L1447,2116L1451,2118.1L1455,2120.1L1458.9,2122.1L1462.9,2124L1466.9,2125.8L1470.9,2127.6L1474.9,2129.3L1478.8,2131L1482.8,2132.6L1486.8,2134.2L1490.8,2135.7L1494.7,2137.1L1498.7,2138.5L1502.7,2139.8L1506.7,2141.1L1510.7,2142.3L1514.6,2143.4L1518.6,2144.5L1522.6,2145.5L1526.6,2146.5L1530.5,2147.4L1534.5,2148.3L1538.5,2149.1L1542.5,2149.9L1546.5,2150.6L1550.4,2151.3L1554.4,2151.9L1558.4,2152.5L1562.4,2153.1L1566.3,2153.6L1570.3,2154.1L1574.3,2154.5"/>
</g>
<g stroke="#333" stroke-width="4" fill="none">
<path d="M1085.5,2160H1097"/>
<path d="M1085.5,2045H1097"/>
<path d="M1085.5,1930H1097"/>
<path d="M1085.5,1815H1097"/>
<path d="M1085.5,1700H1097"/>
<path d="M1085.5,1585H1097"/>
<path d="M1085.5,1470H1097"/>
<path d="M1085.5,1355H1097"/>
<path d="M1085.5,1240H1097"/>
<path d="M1085.5,1125H1097"/>
<path d="M1085.5,1010H1097"/>
<path d="M1085.5,895H1097"/>
<path d="M1085.5,780H1097"/>
<path d="M1085.5,665H1097"/>
<path d="M1085.5,550H1097"/>
<path d="M1085.5,435H1097"/>
<path d="M1085.5,320H1097"/>
<path d="M1085.5,205H1097"/>
<path d="M1154,2229V2240.5"/>
<path d="M1436,2229V2240.5"/>
<path d="M1718,2229V2240.5"/>
<path d="M1999.9,2229V2240.5"/>
<path d="M2281.9,2229V2240.5"/>
</g>
<path d="M1097,97V2229H2339.1" fill="none" stroke="#000" stroke-width="4" stroke-linecap="butt" stroke-linejoin="miter"/>
<text class="yl" x="505.7 531.7 554.7 580.7 603.7 626.7 649.7 672.7 698.7 710.7 733.7 759.7 782.7 796.7 819.7 842.7 865.7 879.7 905.7 930.7 953.7 976.7 999.7 1013.7 1025.7 1039.7 1062.7" y="220.8">Type_2_diabetes_[n=248].txt</text>
<text class="yl" x="528.7 554.7 577.7 603.7 626.7 649.7 672.7 695.7 721.7 733.7 756.7 782.7 805.7 819.7 842.7 865.7 888.7 902.7 928.7 953.7 976.7 999.7 1013.7 1025.7 1039.7 1062.7" y="335.8">Type_1_diabetes_[n=58].txt</text>
<text class="yl" x="443.7 473.7 499.7 522.7 548.7 585.7 608.7 622.7 648.7 660.7 686.7 709.7 732.7 748.7 762.7 788.7 804.7 816.7 830.7 842.7 865.7 888.7 902.7 928.7 953.7 976.7 999.7 1013.7 1025.7 1039.7 1062.7" y="450.8">Rheumatoid_arthritis_[n=97].txt</text>
<text class="yl" x="638.7 666.7 692.7 715.7 741.7 778.7 804.7 830.7 842.7 865.7 888.7 902.7 928.7 953.7 976.7 999.7 1013.7 1025.7 1039.7 1062.7" y="565.8">Pneumonia_[n=22].txt</text>
<text class="yl" x="734.7 767.7 781.7 793.7 807.7 819.7 842.7 865.7 879.7 905.7 930.7 953.7 976.7 999.7 1013.7 1025.7 1039.7 1062.7" y="680.8">Otitis_[n=107].txt</text>
<text class="yl" x="448.7 483.7 506.7 520.7 543.7 569.7 595.7 607.7 619.7 642.7 665.7 688.7 711.7 737.7 763.7 779.7 805.7 842.7 865.7 888.7 902.7 928.7 953.7 976.7 999.7 1013.7 1025.7 1039.7 1062.7" y="795.8">Metabolic_syndrome_[n=50].txt</text>
<text class="yl" x="660.7 695.7 718.7 730.7 753.7 779.7 805.7 842.7 865.7 888.7 902.7 928.7 953.7 976.7 999.7 1013.7 1025.7 1039.7 1062.7" y="910.8">Melanoma_[n=64].txt</text>
<text class="yl" x="260.7 272.7 298.7 312.7 324.7 347.7 384.7 421.7 444.7 458.7 484.7 500.7 523.7 546.7 572.7 598.7 631.7 654.7 666.7 689.7 715.7 727.7 750.7 773.7 796.7 819.7 842.7 865.7 879.7 905.7 930.7 953.7 976.7 999.7 1013.7 1025.7 1039.7 1062.7" y="1025.8">Inflammatory_bowel_disease_[n=151].txt</text>
<text class="yl" x="352.7 364.7 390.7 404.7 427.7 450.7 464.7 476.7 502.7 528.7 551.7 574.7 600.7 623.7 646.7 660.7 676.7 702.7 725.7 751.7 765.7 788.7 804.7 816.7 830.7 842.7 865.7 888.7 902.7 928.7 953.7 976.7 999.7 1013.7 1025.7 1039.7 1062.7" y="1140.8">Infectious_gastroenteritis_[n=20].txt</text>
<text class="yl" x="299.7 311.7 348.7 374.7 397.7 409.7 425.7 448.7 474.7 497.7 523.7 535.7 561.7 584.7 610.7 633.7 656.7 679.7 693.7 719.7 731.7 754.7 770.7 793.7 819.7 842.7 865.7 888.7 902.7 928.7 953.7 976.7 999.7 1013.7 1025.7 1039.7 1062.7" y="1255.8">Impaired_glucose_tolerance_[n=49].txt</text>
<text class="yl" x="574.7 604.7 627.7 653.7 676.7 692.7 706.7 729.7 755.7 778.7 790.7 816.7 842.7 865.7 879.7 905.7 930.7 953.7 976.7 999.7 1013.7 1025.7 1039.7 1062.7" y="1370.8">Hypertension_[n=261].txt</text>
<text class="yl" x="507.7 537.7 560.7 586.7 609.7 623.7 635.7 649.7 661.7 684.7 707.7 737.7 760.7 788.7 800.7 816.7 842.7 865.7 888.7 902.7 928.7 953.7 976.7 999.7 1013.7 1025.7 1039.7 1062.7" y="1485.8">Hepatitis_B_Virus_[n=99].txt</text>
<text class="yl" x="633.7 659.7 682.7 696.7 710.7 733.7 756.7 768.7 780.7 803.7 826.7 842.7 865.7 879.7 905.7 930.7 953.7 976.7 999.7 1013.7 1025.7 1039.7 1062.7" y="1600.8">Fatty_liver_[n=166].txt</text>
<text class="yl" x="480.7 510.7 536.7 548.7 574.7 590.7 613.7 636.7 650.7 673.7 685.7 708.7 731.7 754.7 780.7 803.7 826.7 842.7 865.7 879.7 905.7 930.7 953.7 976.7 999.7 1013.7 1025.7 1039.7 1062.7" y="1715.8">Colorectal_cancer_[n=352].txt</text>
<text class="yl" x="261.7 291.7 303.7 329.7 352.7 366.7 382.7 394.7 420.7 432.7 458.7 495.7 518.7 544.7 556.7 570.7 584.7 596.7 619.7 631.7 643.7 666.7 689.7 701.7 727.7 741.7 764.7 787.7 801.7 813.7 839.7 865.7 888.7 902.7 928.7 953.7 976.7 999.7 1013.7 1025.7 1039.7 1062.7" y="1830.8">Clostridium_difficile_infection_[n=33].txt</text>
<text class="yl" x="658.7 688.7 700.7 716.7 732.7 758.7 784.7 807.7 819.7 842.7 865.7 879.7 905.7 930.7 953.7 976.7 999.7 1013.7 1025.7 1039.7 1062.7" y="1945.8">Cirrhosis_[n=123].txt</text>
<text class="yl" x="451.7 481.7 493.7 519.7 542.7 575.7 598.7 624.7 650.7 673.7 689.7 712.7 738.7 750.7 773.7 796.7 819.7 842.7 865.7 888.7 902.7 928.7 953.7 976.7 999.7 1013.7 1025.7 1039.7 1062.7" y="2060.8">Binswanger_disease_[n=20].txt</text>
<text class="yl" x="41.7 71.7 85.7 111.7 134.7 150.7 176.7 199.7 222.7 234.7 257.7 273.7 299.7 313.7 325.7 348.7 371.7 394.7 417.7 433.7 459.7 471.7 497.7 520.7 543.7 566.7 589.7 615.7 627.7 650.7 666.7 689.7 715.7 727.7 750.7 773.7 796.7 819.7 842.7 865.7 879.7 905.7 930.7 953.7 976.7 999.7 1013.7 1025.7 1039.7 1062.7" y="2175.8">Atherosclerotic_cardiovascular_disease_[n=214].txt</text>
<text class="xl" x="1154" y="2278">-8</text>
<text class="xl" x="1436" y="2278">-6</text>
<text class="xl" x="1718" y="2278">-4</text>
<text class="xl" x="1999.9" y="2278">-2</text>
<text class="xl" x="2281.9" y="2278">0</text>
<text x="1431.2 1441.7 1467.5 1493.4 1519.3 1545.1 1558.2 1573.8 1607.2 1633.1 1643.6 1669.4 1682.5 1693 1716.3 1742.1 1755.2 1786.1 1812 1837.8 1863.7 1889.5 1915.4 1941.3 1964.5 1990.4" y="2330.8" font-size="46" fill="#000">log10 (Relative Abundance)</text>
</svg></body></html>
